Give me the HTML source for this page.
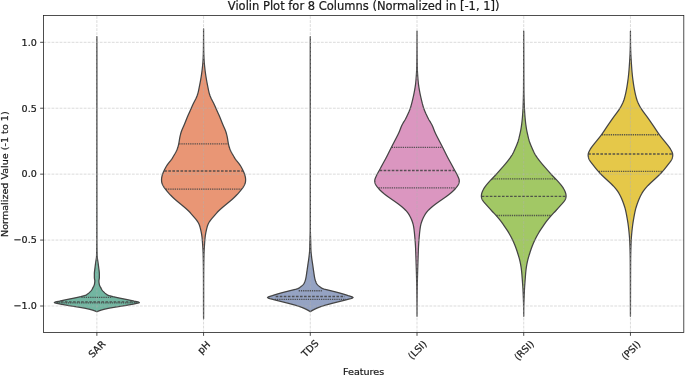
<!DOCTYPE html><html><head><meta charset="utf-8"><title>Violin Plot</title>
<style>html,body{margin:0;padding:0;background:#fff}svg{display:block}text{font-family:"DejaVu Sans","Liberation Sans",sans-serif;fill:#1a1a1a;stroke:#1a1a1a;stroke-width:0.22px}</style></head><body>
<svg width="685" height="376" viewBox="0 0 685 376">
<rect width="685" height="376" fill="#fff"/>
<path d="M96.86 36.60 L96.86 37.10 L96.86 37.60 L96.85 38.10 L96.85 38.60 L96.85 39.10 L96.85 39.60 L96.85 40.10 L96.85 40.60 L96.85 41.10 L96.84 41.60 L96.84 42.10 L96.84 42.60 L96.84 43.10 L96.84 43.60 L96.84 44.10 L96.84 44.60 L96.83 45.10 L96.83 45.60 L96.83 46.10 L96.83 46.60 L96.83 47.10 L96.83 47.60 L96.83 48.10 L96.83 48.60 L96.82 49.10 L96.82 49.60 L96.82 50.10 L96.82 50.60 L96.82 51.10 L96.82 51.60 L96.82 52.10 L96.82 52.60 L96.82 53.10 L96.81 53.60 L96.81 54.10 L96.81 54.60 L96.81 55.10 L96.81 55.60 L96.81 56.10 L96.81 56.60 L96.81 57.10 L96.81 57.60 L96.81 58.10 L96.81 58.60 L96.81 59.10 L96.81 59.60 L96.81 60.10 L96.81 60.60 L96.81 61.10 L96.81 61.60 L96.81 62.10 L96.81 62.60 L96.81 63.10 L96.81 63.60 L96.81 64.10 L96.81 64.60 L96.81 65.10 L96.81 65.60 L96.81 66.10 L96.81 66.60 L96.81 67.10 L96.81 67.60 L96.81 68.10 L96.81 68.60 L96.81 69.10 L96.81 69.60 L96.81 70.10 L96.81 70.60 L96.81 71.10 L96.81 71.60 L96.81 72.10 L96.81 72.60 L96.81 73.10 L96.81 73.60 L96.81 74.10 L96.81 74.60 L96.81 75.10 L96.81 75.60 L96.81 76.10 L96.81 76.60 L96.81 77.10 L96.81 77.60 L96.81 78.10 L96.81 78.60 L96.81 79.10 L96.81 79.60 L96.81 80.10 L96.81 80.60 L96.81 81.10 L96.81 81.60 L96.81 82.10 L96.81 82.60 L96.81 83.10 L96.81 83.60 L96.81 84.10 L96.81 84.60 L96.81 85.10 L96.81 85.60 L96.81 86.10 L96.81 86.60 L96.81 87.10 L96.81 87.60 L96.81 88.10 L96.81 88.60 L96.81 89.10 L96.81 89.60 L96.81 90.10 L96.81 90.60 L96.81 91.10 L96.81 91.60 L96.81 92.10 L96.81 92.60 L96.81 93.10 L96.81 93.60 L96.81 94.10 L96.81 94.60 L96.81 95.10 L96.81 95.60 L96.81 96.10 L96.81 96.60 L96.81 97.10 L96.81 97.60 L96.81 98.10 L96.81 98.60 L96.81 99.10 L96.81 99.60 L96.81 100.10 L96.81 100.60 L96.81 101.10 L96.81 101.60 L96.81 102.10 L96.81 102.60 L96.81 103.10 L96.81 103.60 L96.81 104.10 L96.81 104.60 L96.81 105.10 L96.81 105.60 L96.81 106.10 L96.81 106.60 L96.81 107.10 L96.81 107.60 L96.81 108.10 L96.81 108.60 L96.81 109.10 L96.81 109.60 L96.81 110.10 L96.81 110.60 L96.81 111.10 L96.81 111.60 L96.81 112.10 L96.81 112.60 L96.81 113.10 L96.81 113.60 L96.81 114.10 L96.81 114.60 L96.81 115.10 L96.81 115.60 L96.81 116.10 L96.81 116.60 L96.81 117.10 L96.81 117.60 L96.81 118.10 L96.81 118.60 L96.81 119.10 L96.81 119.60 L96.81 120.10 L96.81 120.60 L96.81 121.10 L96.81 121.60 L96.81 122.10 L96.81 122.60 L96.81 123.10 L96.81 123.60 L96.81 124.10 L96.81 124.60 L96.81 125.10 L96.81 125.60 L96.81 126.10 L96.81 126.60 L96.81 127.10 L96.81 127.60 L96.81 128.10 L96.81 128.60 L96.81 129.10 L96.81 129.60 L96.81 130.10 L96.81 130.60 L96.81 131.10 L96.81 131.60 L96.81 132.10 L96.81 132.60 L96.81 133.10 L96.81 133.60 L96.81 134.10 L96.81 134.60 L96.81 135.10 L96.81 135.60 L96.81 136.10 L96.81 136.60 L96.81 137.10 L96.81 137.60 L96.81 138.10 L96.81 138.60 L96.81 139.10 L96.81 139.60 L96.81 140.10 L96.81 140.60 L96.81 141.10 L96.81 141.60 L96.81 142.10 L96.81 142.60 L96.81 143.10 L96.81 143.60 L96.81 144.10 L96.81 144.60 L96.81 145.10 L96.81 145.60 L96.81 146.10 L96.81 146.60 L96.81 147.10 L96.81 147.60 L96.81 148.10 L96.81 148.60 L96.81 149.10 L96.81 149.60 L96.81 150.10 L96.81 150.60 L96.81 151.10 L96.81 151.60 L96.81 152.10 L96.81 152.60 L96.81 153.10 L96.81 153.60 L96.81 154.10 L96.81 154.60 L96.81 155.10 L96.81 155.60 L96.81 156.10 L96.81 156.60 L96.81 157.10 L96.81 157.60 L96.81 158.10 L96.81 158.60 L96.81 159.10 L96.81 159.60 L96.81 160.10 L96.81 160.60 L96.81 161.10 L96.81 161.60 L96.81 162.10 L96.81 162.60 L96.81 163.10 L96.81 163.60 L96.81 164.10 L96.81 164.60 L96.81 165.10 L96.81 165.60 L96.81 166.10 L96.81 166.60 L96.81 167.10 L96.81 167.60 L96.81 168.10 L96.81 168.60 L96.81 169.10 L96.81 169.60 L96.81 170.10 L96.81 170.60 L96.81 171.10 L96.81 171.60 L96.81 172.10 L96.81 172.60 L96.81 173.10 L96.81 173.60 L96.81 174.10 L96.81 174.60 L96.81 175.10 L96.81 175.60 L96.81 176.10 L96.81 176.60 L96.81 177.10 L96.81 177.60 L96.80 178.10 L96.80 178.60 L96.80 179.10 L96.80 179.60 L96.80 180.10 L96.80 180.60 L96.80 181.10 L96.80 181.60 L96.80 182.10 L96.80 182.60 L96.80 183.10 L96.80 183.60 L96.80 184.10 L96.80 184.60 L96.80 185.10 L96.80 185.60 L96.80 186.10 L96.80 186.60 L96.80 187.10 L96.80 187.60 L96.80 188.10 L96.80 188.60 L96.80 189.10 L96.80 189.60 L96.80 190.10 L96.80 190.60 L96.80 191.10 L96.80 191.60 L96.80 192.10 L96.80 192.60 L96.80 193.10 L96.80 193.60 L96.80 194.10 L96.80 194.60 L96.80 195.10 L96.80 195.60 L96.80 196.10 L96.80 196.60 L96.80 197.10 L96.80 197.60 L96.80 198.10 L96.80 198.60 L96.80 199.10 L96.80 199.60 L96.80 200.10 L96.80 200.60 L96.80 201.10 L96.79 201.60 L96.79 202.10 L96.79 202.60 L96.79 203.10 L96.79 203.60 L96.79 204.10 L96.79 204.60 L96.79 205.10 L96.79 205.60 L96.79 206.10 L96.79 206.60 L96.79 207.10 L96.79 207.60 L96.79 208.10 L96.79 208.60 L96.79 209.10 L96.79 209.60 L96.79 210.10 L96.79 210.60 L96.79 211.10 L96.79 211.60 L96.79 212.10 L96.79 212.60 L96.79 213.10 L96.79 213.60 L96.79 214.10 L96.79 214.60 L96.79 215.10 L96.78 215.60 L96.78 216.10 L96.78 216.60 L96.78 217.10 L96.78 217.60 L96.78 218.10 L96.78 218.60 L96.78 219.10 L96.78 219.60 L96.78 220.10 L96.78 220.60 L96.78 221.10 L96.78 221.60 L96.78 222.10 L96.78 222.60 L96.78 223.10 L96.78 223.60 L96.78 224.10 L96.78 224.60 L96.78 225.10 L96.78 225.60 L96.77 226.10 L96.77 226.60 L96.77 227.10 L96.77 227.60 L96.77 228.10 L96.77 228.60 L96.77 229.10 L96.77 229.60 L96.77 230.10 L96.77 230.60 L96.77 231.10 L96.77 231.60 L96.77 232.10 L96.77 232.60 L96.77 233.10 L96.77 233.60 L96.77 234.10 L96.77 234.60 L96.76 235.10 L96.76 235.60 L96.76 236.10 L96.76 236.60 L96.76 237.10 L96.76 237.60 L96.76 238.10 L96.76 238.60 L96.76 239.10 L96.76 239.60 L96.76 240.10 L96.76 240.60 L96.76 241.10 L96.75 241.60 L96.75 242.10 L96.75 242.60 L96.75 243.10 L96.75 243.60 L96.74 244.10 L96.74 244.60 L96.74 245.10 L96.73 245.60 L96.73 246.10 L96.72 246.60 L96.72 247.10 L96.71 247.60 L96.71 248.10 L96.70 248.60 L96.69 249.10 L96.69 249.60 L96.68 250.10 L96.67 250.60 L96.66 251.10 L96.65 251.60 L96.65 252.10 L96.64 252.60 L96.63 253.10 L96.62 253.60 L96.60 254.10 L96.59 254.60 L96.58 255.10 L96.57 255.60 L96.56 256.10 L96.53 256.60 L96.49 257.10 L96.44 257.60 L96.37 258.10 L96.30 258.60 L96.22 259.10 L96.14 259.60 L96.06 260.10 L95.97 260.60 L95.89 261.10 L95.81 261.60 L95.74 262.10 L95.68 262.60 L95.61 263.10 L95.54 263.60 L95.47 264.10 L95.40 264.60 L95.33 265.10 L95.26 265.60 L95.19 266.10 L95.13 266.60 L95.07 267.10 L95.01 267.60 L94.95 268.10 L94.89 268.60 L94.82 269.10 L94.75 269.60 L94.69 270.10 L94.62 270.60 L94.56 271.10 L94.50 271.60 L94.45 272.10 L94.41 272.60 L94.38 273.10 L94.36 273.60 L94.36 274.10 L94.36 274.60 L94.36 275.10 L94.36 275.60 L94.36 276.10 L94.36 276.60 L94.36 277.10 L94.36 277.60 L94.39 278.10 L94.46 278.60 L94.55 279.10 L94.65 279.60 L94.73 280.10 L94.79 280.60 L94.81 281.10 L94.79 281.60 L94.75 282.10 L94.70 282.60 L94.63 283.10 L94.55 283.60 L94.46 284.10 L94.36 284.60 L94.23 285.10 L94.04 285.60 L93.81 286.10 L93.55 286.60 L93.27 287.10 L92.99 287.60 L92.71 288.10 L92.45 288.60 L92.19 289.10 L91.91 289.60 L91.60 290.10 L91.23 290.60 L90.78 291.10 L90.29 291.60 L89.76 292.10 L89.25 292.60 L88.75 293.10 L88.22 293.60 L87.61 294.10 L86.88 294.60 L85.93 295.10 L84.47 295.60 L82.69 296.10 L80.80 296.60 L78.66 297.10 L76.36 297.60 L74.00 298.10 L71.49 298.60 L68.94 299.10 L66.51 299.60 L64.12 300.10 L61.83 300.60 L59.54 301.10 L56.94 301.60 L54.89 302.10 L54.31 302.60 L55.85 303.10 L58.16 303.60 L60.53 304.10 L63.21 304.60 L66.00 305.10 L68.94 305.60 L72.00 306.10 L75.23 306.60 L78.37 307.10 L81.42 307.60 L84.25 308.10 L86.69 308.60 L88.89 309.10 L90.83 309.60 L92.56 310.10 L94.10 310.60 L95.43 311.10 L96.56 311.60 L97.16 311.60 L98.29 311.10 L99.61 310.60 L101.15 310.10 L102.89 309.60 L104.83 309.10 L107.03 308.60 L109.47 308.10 L112.30 307.60 L115.35 307.10 L118.48 306.60 L121.71 306.10 L124.77 305.60 L127.72 305.10 L130.50 304.60 L133.19 304.10 L135.56 303.60 L137.86 303.10 L139.40 302.60 L138.83 302.10 L136.77 301.60 L134.18 301.10 L131.89 300.60 L129.60 300.10 L127.21 299.60 L124.78 299.10 L122.23 298.60 L119.71 298.10 L117.35 297.60 L115.05 297.10 L112.91 296.60 L111.02 296.10 L109.24 295.60 L107.78 295.10 L106.84 294.60 L106.11 294.10 L105.50 293.60 L104.97 293.10 L104.47 292.60 L103.95 292.10 L103.43 291.60 L102.93 291.10 L102.49 290.60 L102.12 290.10 L101.81 289.60 L101.53 289.10 L101.26 288.60 L101.01 288.10 L100.73 287.60 L100.45 287.10 L100.17 286.60 L99.91 286.10 L99.68 285.60 L99.49 285.10 L99.36 284.60 L99.26 284.10 L99.17 283.60 L99.09 283.10 L99.02 282.60 L98.96 282.10 L98.93 281.60 L98.91 281.10 L98.92 280.60 L98.98 280.10 L99.07 279.60 L99.16 279.10 L99.25 278.60 L99.32 278.10 L99.36 277.60 L99.36 277.10 L99.36 276.60 L99.36 276.10 L99.36 275.60 L99.36 275.10 L99.36 274.60 L99.36 274.10 L99.35 273.60 L99.33 273.10 L99.30 272.60 L99.26 272.10 L99.21 271.60 L99.16 271.10 L99.09 270.60 L99.03 270.10 L98.96 269.60 L98.90 269.10 L98.83 268.60 L98.77 268.10 L98.71 267.60 L98.65 267.10 L98.59 266.60 L98.52 266.10 L98.45 265.60 L98.39 265.10 L98.32 264.60 L98.25 264.10 L98.18 263.60 L98.11 263.10 L98.04 262.60 L97.97 262.10 L97.90 261.60 L97.83 261.10 L97.74 260.60 L97.66 260.10 L97.58 259.60 L97.49 259.10 L97.42 258.60 L97.34 258.10 L97.28 257.60 L97.23 257.10 L97.19 256.60 L97.16 256.10 L97.15 255.60 L97.14 255.10 L97.12 254.60 L97.11 254.10 L97.10 253.60 L97.09 253.10 L97.08 252.60 L97.07 252.10 L97.06 251.60 L97.05 251.10 L97.05 250.60 L97.04 250.10 L97.03 249.60 L97.02 249.10 L97.02 248.60 L97.01 248.10 L97.00 247.60 L97.00 247.10 L96.99 246.60 L96.99 246.10 L96.98 245.60 L96.98 245.10 L96.98 244.60 L96.97 244.10 L96.97 243.60 L96.97 243.10 L96.97 242.60 L96.96 242.10 L96.96 241.60 L96.96 241.10 L96.96 240.60 L96.96 240.10 L96.96 239.60 L96.96 239.10 L96.96 238.60 L96.96 238.10 L96.96 237.60 L96.95 237.10 L96.95 236.60 L96.95 236.10 L96.95 235.60 L96.95 235.10 L96.95 234.60 L96.95 234.10 L96.95 233.60 L96.95 233.10 L96.95 232.60 L96.95 232.10 L96.95 231.60 L96.95 231.10 L96.95 230.60 L96.95 230.10 L96.95 229.60 L96.94 229.10 L96.94 228.60 L96.94 228.10 L96.94 227.60 L96.94 227.10 L96.94 226.60 L96.94 226.10 L96.94 225.60 L96.94 225.10 L96.94 224.60 L96.94 224.10 L96.94 223.60 L96.94 223.10 L96.94 222.60 L96.94 222.10 L96.94 221.60 L96.94 221.10 L96.94 220.60 L96.94 220.10 L96.94 219.60 L96.93 219.10 L96.93 218.60 L96.93 218.10 L96.93 217.60 L96.93 217.10 L96.93 216.60 L96.93 216.10 L96.93 215.60 L96.93 215.10 L96.93 214.60 L96.93 214.10 L96.93 213.60 L96.93 213.10 L96.93 212.60 L96.93 212.10 L96.93 211.60 L96.93 211.10 L96.93 210.60 L96.93 210.10 L96.93 209.60 L96.93 209.10 L96.93 208.60 L96.93 208.10 L96.93 207.60 L96.93 207.10 L96.92 206.60 L96.92 206.10 L96.92 205.60 L96.92 205.10 L96.92 204.60 L96.92 204.10 L96.92 203.60 L96.92 203.10 L96.92 202.60 L96.92 202.10 L96.92 201.60 L96.92 201.10 L96.92 200.60 L96.92 200.10 L96.92 199.60 L96.92 199.10 L96.92 198.60 L96.92 198.10 L96.92 197.60 L96.92 197.10 L96.92 196.60 L96.92 196.10 L96.92 195.60 L96.92 195.10 L96.92 194.60 L96.92 194.10 L96.92 193.60 L96.92 193.10 L96.92 192.60 L96.92 192.10 L96.92 191.60 L96.92 191.10 L96.92 190.60 L96.92 190.10 L96.92 189.60 L96.92 189.10 L96.92 188.60 L96.92 188.10 L96.91 187.60 L96.91 187.10 L96.91 186.60 L96.91 186.10 L96.91 185.60 L96.91 185.10 L96.91 184.60 L96.91 184.10 L96.91 183.60 L96.91 183.10 L96.91 182.60 L96.91 182.10 L96.91 181.60 L96.91 181.10 L96.91 180.60 L96.91 180.10 L96.91 179.60 L96.91 179.10 L96.91 178.60 L96.91 178.10 L96.91 177.60 L96.91 177.10 L96.91 176.60 L96.91 176.10 L96.91 175.60 L96.91 175.10 L96.91 174.60 L96.91 174.10 L96.91 173.60 L96.91 173.10 L96.91 172.60 L96.91 172.10 L96.91 171.60 L96.91 171.10 L96.91 170.60 L96.91 170.10 L96.91 169.60 L96.91 169.10 L96.91 168.60 L96.91 168.10 L96.91 167.60 L96.91 167.10 L96.91 166.60 L96.91 166.10 L96.91 165.60 L96.91 165.10 L96.91 164.60 L96.91 164.10 L96.91 163.60 L96.91 163.10 L96.91 162.60 L96.91 162.10 L96.91 161.60 L96.91 161.10 L96.91 160.60 L96.91 160.10 L96.91 159.60 L96.91 159.10 L96.91 158.60 L96.91 158.10 L96.91 157.60 L96.91 157.10 L96.91 156.60 L96.91 156.10 L96.91 155.60 L96.91 155.10 L96.91 154.60 L96.91 154.10 L96.91 153.60 L96.91 153.10 L96.91 152.60 L96.91 152.10 L96.91 151.60 L96.91 151.10 L96.91 150.60 L96.91 150.10 L96.91 149.60 L96.91 149.10 L96.91 148.60 L96.91 148.10 L96.91 147.60 L96.91 147.10 L96.91 146.60 L96.91 146.10 L96.91 145.60 L96.91 145.10 L96.91 144.60 L96.91 144.10 L96.91 143.60 L96.91 143.10 L96.91 142.60 L96.91 142.10 L96.91 141.60 L96.91 141.10 L96.91 140.60 L96.91 140.10 L96.91 139.60 L96.91 139.10 L96.91 138.60 L96.91 138.10 L96.91 137.60 L96.91 137.10 L96.91 136.60 L96.91 136.10 L96.91 135.60 L96.91 135.10 L96.91 134.60 L96.91 134.10 L96.91 133.60 L96.91 133.10 L96.91 132.60 L96.91 132.10 L96.91 131.60 L96.91 131.10 L96.91 130.60 L96.91 130.10 L96.91 129.60 L96.91 129.10 L96.91 128.60 L96.91 128.10 L96.91 127.60 L96.91 127.10 L96.91 126.60 L96.91 126.10 L96.91 125.60 L96.91 125.10 L96.91 124.60 L96.91 124.10 L96.91 123.60 L96.91 123.10 L96.91 122.60 L96.91 122.10 L96.91 121.60 L96.91 121.10 L96.91 120.60 L96.91 120.10 L96.91 119.60 L96.91 119.10 L96.91 118.60 L96.91 118.10 L96.91 117.60 L96.91 117.10 L96.91 116.60 L96.91 116.10 L96.91 115.60 L96.91 115.10 L96.91 114.60 L96.91 114.10 L96.91 113.60 L96.91 113.10 L96.91 112.60 L96.91 112.10 L96.91 111.60 L96.91 111.10 L96.91 110.60 L96.91 110.10 L96.91 109.60 L96.91 109.10 L96.91 108.60 L96.91 108.10 L96.91 107.60 L96.91 107.10 L96.91 106.60 L96.91 106.10 L96.91 105.60 L96.91 105.10 L96.91 104.60 L96.91 104.10 L96.91 103.60 L96.91 103.10 L96.91 102.60 L96.91 102.10 L96.91 101.60 L96.91 101.10 L96.91 100.60 L96.91 100.10 L96.91 99.60 L96.91 99.10 L96.91 98.60 L96.91 98.10 L96.91 97.60 L96.91 97.10 L96.91 96.60 L96.91 96.10 L96.91 95.60 L96.91 95.10 L96.91 94.60 L96.91 94.10 L96.91 93.60 L96.91 93.10 L96.91 92.60 L96.91 92.10 L96.91 91.60 L96.91 91.10 L96.91 90.60 L96.91 90.10 L96.91 89.60 L96.91 89.10 L96.91 88.60 L96.91 88.10 L96.91 87.60 L96.91 87.10 L96.91 86.60 L96.91 86.10 L96.91 85.60 L96.91 85.10 L96.91 84.60 L96.91 84.10 L96.91 83.60 L96.91 83.10 L96.91 82.60 L96.91 82.10 L96.91 81.60 L96.91 81.10 L96.91 80.60 L96.91 80.10 L96.91 79.60 L96.91 79.10 L96.91 78.60 L96.91 78.10 L96.91 77.60 L96.91 77.10 L96.91 76.60 L96.91 76.10 L96.91 75.60 L96.91 75.10 L96.91 74.60 L96.91 74.10 L96.91 73.60 L96.91 73.10 L96.91 72.60 L96.91 72.10 L96.91 71.60 L96.91 71.10 L96.91 70.60 L96.91 70.10 L96.91 69.60 L96.91 69.10 L96.91 68.60 L96.91 68.10 L96.91 67.60 L96.91 67.10 L96.91 66.60 L96.91 66.10 L96.91 65.60 L96.91 65.10 L96.91 64.60 L96.91 64.10 L96.91 63.60 L96.91 63.10 L96.91 62.60 L96.91 62.10 L96.91 61.60 L96.91 61.10 L96.91 60.60 L96.91 60.10 L96.91 59.60 L96.91 59.10 L96.91 58.60 L96.91 58.10 L96.91 57.60 L96.91 57.10 L96.91 56.60 L96.91 56.10 L96.91 55.60 L96.90 55.10 L96.90 54.60 L96.90 54.10 L96.90 53.60 L96.90 53.10 L96.90 52.60 L96.90 52.10 L96.90 51.60 L96.90 51.10 L96.90 50.60 L96.90 50.10 L96.89 49.60 L96.89 49.10 L96.89 48.60 L96.89 48.10 L96.89 47.60 L96.89 47.10 L96.89 46.60 L96.89 46.10 L96.88 45.60 L96.88 45.10 L96.88 44.60 L96.88 44.10 L96.88 43.60 L96.88 43.10 L96.88 42.60 L96.87 42.10 L96.87 41.60 L96.87 41.10 L96.87 40.60 L96.87 40.10 L96.87 39.60 L96.87 39.10 L96.86 38.60 L96.86 38.10 L96.86 37.60 L96.86 37.10 L96.86 36.60Z" fill="#72b6a1" stroke="#444444" stroke-width="1.25" stroke-linejoin="round"/>
<path d="M203.57 28.80 L203.57 29.30 L203.57 29.80 L203.57 30.30 L203.57 30.80 L203.57 31.30 L203.57 31.80 L203.57 32.30 L203.56 32.80 L203.56 33.30 L203.56 33.80 L203.56 34.30 L203.56 34.80 L203.55 35.30 L203.55 35.80 L203.55 36.30 L203.54 36.80 L203.54 37.30 L203.54 37.80 L203.54 38.30 L203.53 38.80 L203.53 39.30 L203.53 39.80 L203.52 40.30 L203.52 40.80 L203.51 41.30 L203.51 41.80 L203.51 42.30 L203.50 42.80 L203.50 43.30 L203.49 43.80 L203.49 44.30 L203.48 44.80 L203.48 45.30 L203.47 45.80 L203.46 46.30 L203.46 46.80 L203.45 47.30 L203.44 47.80 L203.44 48.30 L203.43 48.80 L203.42 49.30 L203.41 49.80 L203.40 50.30 L203.40 50.80 L203.39 51.30 L203.38 51.80 L203.36 52.30 L203.35 52.80 L203.34 53.30 L203.33 53.80 L203.31 54.30 L203.29 54.80 L203.28 55.30 L203.26 55.80 L203.24 56.30 L203.22 56.80 L203.20 57.30 L203.17 57.80 L203.15 58.30 L203.13 58.80 L203.10 59.30 L203.07 59.80 L203.04 60.30 L203.01 60.80 L202.98 61.30 L202.94 61.80 L202.90 62.30 L202.86 62.80 L202.82 63.30 L202.78 63.80 L202.73 64.30 L202.68 64.80 L202.63 65.30 L202.58 65.80 L202.53 66.30 L202.48 66.80 L202.42 67.30 L202.37 67.80 L202.31 68.30 L202.26 68.80 L202.20 69.30 L202.14 69.80 L202.08 70.30 L202.02 70.80 L201.95 71.30 L201.88 71.80 L201.82 72.30 L201.75 72.80 L201.68 73.30 L201.61 73.80 L201.53 74.30 L201.46 74.80 L201.38 75.30 L201.31 75.80 L201.23 76.30 L201.15 76.80 L201.07 77.30 L200.99 77.80 L200.90 78.30 L200.82 78.80 L200.74 79.30 L200.65 79.80 L200.56 80.30 L200.47 80.80 L200.38 81.30 L200.29 81.80 L200.19 82.30 L200.10 82.80 L200.00 83.30 L199.91 83.80 L199.81 84.30 L199.71 84.80 L199.61 85.30 L199.52 85.80 L199.42 86.30 L199.32 86.80 L199.22 87.30 L199.12 87.80 L199.02 88.30 L198.92 88.80 L198.82 89.30 L198.72 89.80 L198.61 90.30 L198.51 90.80 L198.39 91.30 L198.28 91.80 L198.16 92.30 L198.03 92.80 L197.90 93.30 L197.76 93.80 L197.61 94.30 L197.45 94.80 L197.29 95.30 L197.11 95.80 L196.92 96.30 L196.72 96.80 L196.51 97.30 L196.29 97.80 L196.06 98.30 L195.83 98.80 L195.58 99.30 L195.33 99.80 L195.08 100.30 L194.82 100.80 L194.55 101.30 L194.29 101.80 L194.03 102.30 L193.77 102.80 L193.52 103.30 L193.27 103.80 L193.03 104.30 L192.80 104.80 L192.57 105.30 L192.34 105.80 L192.12 106.30 L191.90 106.80 L191.68 107.30 L191.46 107.80 L191.25 108.30 L191.03 108.80 L190.81 109.30 L190.59 109.80 L190.37 110.30 L190.15 110.80 L189.93 111.30 L189.70 111.80 L189.48 112.30 L189.25 112.80 L189.02 113.30 L188.79 113.80 L188.56 114.30 L188.33 114.80 L188.11 115.30 L187.89 115.80 L187.68 116.30 L187.46 116.80 L187.26 117.30 L187.05 117.80 L186.85 118.30 L186.65 118.80 L186.45 119.30 L186.25 119.80 L186.05 120.30 L185.86 120.80 L185.66 121.30 L185.46 121.80 L185.26 122.30 L185.06 122.80 L184.86 123.30 L184.65 123.80 L184.45 124.30 L184.24 124.80 L184.02 125.30 L183.81 125.80 L183.59 126.30 L183.36 126.80 L183.14 127.30 L182.91 127.80 L182.69 128.30 L182.47 128.80 L182.25 129.30 L182.04 129.80 L181.84 130.30 L181.65 130.80 L181.47 131.30 L181.29 131.80 L181.13 132.30 L180.97 132.80 L180.82 133.30 L180.67 133.80 L180.54 134.30 L180.41 134.80 L180.28 135.30 L180.17 135.80 L180.05 136.30 L179.95 136.80 L179.85 137.30 L179.75 137.80 L179.66 138.30 L179.58 138.80 L179.49 139.30 L179.41 139.80 L179.34 140.30 L179.26 140.80 L179.18 141.30 L179.09 141.80 L179.01 142.30 L178.92 142.80 L178.82 143.30 L178.72 143.80 L178.62 144.30 L178.50 144.80 L178.38 145.30 L178.26 145.80 L178.13 146.30 L177.99 146.80 L177.84 147.30 L177.69 147.80 L177.53 148.30 L177.35 148.80 L177.17 149.30 L176.98 149.80 L176.77 150.30 L176.54 150.80 L176.31 151.30 L176.05 151.80 L175.79 152.30 L175.51 152.80 L175.23 153.30 L174.95 153.80 L174.65 154.30 L174.36 154.80 L174.07 155.30 L173.77 155.80 L173.48 156.30 L173.18 156.80 L172.88 157.30 L172.57 157.80 L172.25 158.30 L171.91 158.80 L171.57 159.30 L171.20 159.80 L170.82 160.30 L170.42 160.80 L170.01 161.30 L169.60 161.80 L169.18 162.30 L168.77 162.80 L168.38 163.30 L168.00 163.80 L167.64 164.30 L167.30 164.80 L166.98 165.30 L166.68 165.80 L166.38 166.30 L166.10 166.80 L165.82 167.30 L165.55 167.80 L165.28 168.30 L165.01 168.80 L164.76 169.30 L164.50 169.80 L164.26 170.30 L164.01 170.80 L163.78 171.30 L163.55 171.80 L163.34 172.30 L163.13 172.80 L162.93 173.30 L162.74 173.80 L162.56 174.30 L162.39 174.80 L162.24 175.30 L162.10 175.80 L161.97 176.30 L161.85 176.80 L161.76 177.30 L161.68 177.80 L161.62 178.30 L161.58 178.80 L161.55 179.30 L161.55 179.80 L161.55 180.30 L161.58 180.80 L161.62 181.30 L161.69 181.80 L161.77 182.30 L161.88 182.80 L162.02 183.30 L162.19 183.80 L162.39 184.30 L162.61 184.80 L162.86 185.30 L163.13 185.80 L163.43 186.30 L163.76 186.80 L164.10 187.30 L164.46 187.80 L164.84 188.30 L165.22 188.80 L165.61 189.30 L166.01 189.80 L166.41 190.30 L166.81 190.80 L167.22 191.30 L167.63 191.80 L168.05 192.30 L168.48 192.80 L168.92 193.30 L169.36 193.80 L169.81 194.30 L170.27 194.80 L170.75 195.30 L171.22 195.80 L171.71 196.30 L172.21 196.80 L172.72 197.30 L173.24 197.80 L173.77 198.30 L174.31 198.80 L174.86 199.30 L175.43 199.80 L176.01 200.30 L176.60 200.80 L177.19 201.30 L177.80 201.80 L178.41 202.30 L179.02 202.80 L179.63 203.30 L180.24 203.80 L180.85 204.30 L181.45 204.80 L182.06 205.30 L182.66 205.80 L183.25 206.30 L183.85 206.80 L184.44 207.30 L185.02 207.80 L185.60 208.30 L186.17 208.80 L186.73 209.30 L187.29 209.80 L187.83 210.30 L188.36 210.80 L188.88 211.30 L189.38 211.80 L189.86 212.30 L190.33 212.80 L190.78 213.30 L191.23 213.80 L191.66 214.30 L192.09 214.80 L192.52 215.30 L192.95 215.80 L193.39 216.30 L193.83 216.80 L194.27 217.30 L194.70 217.80 L195.14 218.30 L195.56 218.80 L195.97 219.30 L196.37 219.80 L196.74 220.30 L197.09 220.80 L197.43 221.30 L197.74 221.80 L198.04 222.30 L198.32 222.80 L198.58 223.30 L198.82 223.80 L199.05 224.30 L199.26 224.80 L199.45 225.30 L199.63 225.80 L199.79 226.30 L199.95 226.80 L200.09 227.30 L200.23 227.80 L200.36 228.30 L200.48 228.80 L200.60 229.30 L200.72 229.80 L200.83 230.30 L200.94 230.80 L201.05 231.30 L201.16 231.80 L201.26 232.30 L201.36 232.80 L201.45 233.30 L201.54 233.80 L201.62 234.30 L201.70 234.80 L201.77 235.30 L201.84 235.80 L201.90 236.30 L201.96 236.80 L202.02 237.30 L202.07 237.80 L202.13 238.30 L202.17 238.80 L202.22 239.30 L202.26 239.80 L202.31 240.30 L202.35 240.80 L202.39 241.30 L202.43 241.80 L202.46 242.30 L202.50 242.80 L202.54 243.30 L202.57 243.80 L202.61 244.30 L202.64 244.80 L202.68 245.30 L202.71 245.80 L202.75 246.30 L202.78 246.80 L202.82 247.30 L202.85 247.80 L202.88 248.30 L202.91 248.80 L202.94 249.30 L202.97 249.80 L203.00 250.30 L203.03 250.80 L203.05 251.30 L203.07 251.80 L203.09 252.30 L203.11 252.80 L203.13 253.30 L203.15 253.80 L203.16 254.30 L203.18 254.80 L203.19 255.30 L203.20 255.80 L203.21 256.30 L203.22 256.80 L203.23 257.30 L203.24 257.80 L203.25 258.30 L203.26 258.80 L203.27 259.30 L203.28 259.80 L203.28 260.30 L203.29 260.80 L203.30 261.30 L203.31 261.80 L203.32 262.30 L203.32 262.80 L203.33 263.30 L203.34 263.80 L203.35 264.30 L203.35 264.80 L203.36 265.30 L203.37 265.80 L203.37 266.30 L203.38 266.80 L203.38 267.30 L203.39 267.80 L203.39 268.30 L203.40 268.80 L203.40 269.30 L203.41 269.80 L203.41 270.30 L203.42 270.80 L203.42 271.30 L203.43 271.80 L203.43 272.30 L203.44 272.80 L203.44 273.30 L203.44 273.80 L203.45 274.30 L203.45 274.80 L203.45 275.30 L203.46 275.80 L203.46 276.30 L203.46 276.80 L203.46 277.30 L203.47 277.80 L203.47 278.30 L203.47 278.80 L203.47 279.30 L203.47 279.80 L203.48 280.30 L203.48 280.80 L203.48 281.30 L203.48 281.80 L203.48 282.30 L203.48 282.80 L203.48 283.30 L203.48 283.80 L203.49 284.30 L203.49 284.80 L203.49 285.30 L203.49 285.80 L203.49 286.30 L203.49 286.80 L203.49 287.30 L203.49 287.80 L203.49 288.30 L203.49 288.80 L203.49 289.30 L203.49 289.80 L203.50 290.30 L203.50 290.80 L203.50 291.30 L203.50 291.80 L203.50 292.30 L203.50 292.80 L203.50 293.30 L203.50 293.80 L203.50 294.30 L203.50 294.80 L203.50 295.30 L203.50 295.80 L203.50 296.30 L203.50 296.80 L203.50 297.30 L203.50 297.80 L203.50 298.30 L203.50 298.80 L203.51 299.30 L203.51 299.80 L203.51 300.30 L203.51 300.80 L203.51 301.30 L203.51 301.80 L203.51 302.30 L203.51 302.80 L203.51 303.30 L203.51 303.80 L203.51 304.30 L203.51 304.80 L203.51 305.30 L203.52 305.80 L203.52 306.30 L203.52 306.80 L203.52 307.30 L203.52 307.80 L203.52 308.30 L203.52 308.80 L203.52 309.30 L203.53 309.80 L203.53 310.30 L203.53 310.80 L203.53 311.30 L203.53 311.80 L203.54 312.30 L203.54 312.80 L203.54 313.30 L203.54 313.80 L203.55 314.30 L203.55 314.80 L203.55 315.30 L203.56 315.80 L203.56 316.30 L203.56 316.80 L203.56 317.30 L203.57 317.80 L203.57 318.30 L203.57 318.80 L203.57 318.80 L203.58 318.30 L203.58 317.80 L203.59 317.30 L203.59 316.80 L203.59 316.30 L203.59 315.80 L203.60 315.30 L203.60 314.80 L203.60 314.30 L203.61 313.80 L203.61 313.30 L203.61 312.80 L203.61 312.30 L203.62 311.80 L203.62 311.30 L203.62 310.80 L203.62 310.30 L203.62 309.80 L203.63 309.30 L203.63 308.80 L203.63 308.30 L203.63 307.80 L203.63 307.30 L203.63 306.80 L203.63 306.30 L203.63 305.80 L203.64 305.30 L203.64 304.80 L203.64 304.30 L203.64 303.80 L203.64 303.30 L203.64 302.80 L203.64 302.30 L203.64 301.80 L203.64 301.30 L203.64 300.80 L203.64 300.30 L203.64 299.80 L203.64 299.30 L203.65 298.80 L203.65 298.30 L203.65 297.80 L203.65 297.30 L203.65 296.80 L203.65 296.30 L203.65 295.80 L203.65 295.30 L203.65 294.80 L203.65 294.30 L203.65 293.80 L203.65 293.30 L203.65 292.80 L203.65 292.30 L203.65 291.80 L203.65 291.30 L203.65 290.80 L203.65 290.30 L203.66 289.80 L203.66 289.30 L203.66 288.80 L203.66 288.30 L203.66 287.80 L203.66 287.30 L203.66 286.80 L203.66 286.30 L203.66 285.80 L203.66 285.30 L203.66 284.80 L203.66 284.30 L203.67 283.80 L203.67 283.30 L203.67 282.80 L203.67 282.30 L203.67 281.80 L203.67 281.30 L203.67 280.80 L203.67 280.30 L203.68 279.80 L203.68 279.30 L203.68 278.80 L203.68 278.30 L203.68 277.80 L203.69 277.30 L203.69 276.80 L203.69 276.30 L203.69 275.80 L203.70 275.30 L203.70 274.80 L203.70 274.30 L203.71 273.80 L203.71 273.30 L203.71 272.80 L203.72 272.30 L203.72 271.80 L203.73 271.30 L203.73 270.80 L203.74 270.30 L203.74 269.80 L203.75 269.30 L203.75 268.80 L203.76 268.30 L203.76 267.80 L203.77 267.30 L203.77 266.80 L203.78 266.30 L203.78 265.80 L203.79 265.30 L203.80 264.80 L203.80 264.30 L203.81 263.80 L203.82 263.30 L203.83 262.80 L203.83 262.30 L203.84 261.80 L203.85 261.30 L203.86 260.80 L203.87 260.30 L203.87 259.80 L203.88 259.30 L203.89 258.80 L203.90 258.30 L203.91 257.80 L203.92 257.30 L203.93 256.80 L203.94 256.30 L203.95 255.80 L203.96 255.30 L203.97 254.80 L203.99 254.30 L204.00 253.80 L204.02 253.30 L204.04 252.80 L204.06 252.30 L204.08 251.80 L204.10 251.30 L204.12 250.80 L204.15 250.30 L204.18 249.80 L204.21 249.30 L204.24 248.80 L204.27 248.30 L204.30 247.80 L204.33 247.30 L204.37 246.80 L204.40 246.30 L204.44 245.80 L204.47 245.30 L204.51 244.80 L204.54 244.30 L204.58 243.80 L204.61 243.30 L204.65 242.80 L204.69 242.30 L204.72 241.80 L204.76 241.30 L204.80 240.80 L204.84 240.30 L204.89 239.80 L204.93 239.30 L204.98 238.80 L205.02 238.30 L205.08 237.80 L205.13 237.30 L205.19 236.80 L205.25 236.30 L205.31 235.80 L205.38 235.30 L205.45 234.80 L205.53 234.30 L205.61 233.80 L205.70 233.30 L205.79 232.80 L205.89 232.30 L205.99 231.80 L206.10 231.30 L206.21 230.80 L206.32 230.30 L206.43 229.80 L206.55 229.30 L206.67 228.80 L206.79 228.30 L206.92 227.80 L207.06 227.30 L207.20 226.80 L207.36 226.30 L207.52 225.80 L207.70 225.30 L207.89 224.80 L208.10 224.30 L208.33 223.80 L208.57 223.30 L208.83 222.80 L209.11 222.30 L209.41 221.80 L209.72 221.30 L210.06 220.80 L210.41 220.30 L210.78 219.80 L211.18 219.30 L211.59 218.80 L212.01 218.30 L212.45 217.80 L212.88 217.30 L213.32 216.80 L213.76 216.30 L214.20 215.80 L214.63 215.30 L215.06 214.80 L215.49 214.30 L215.92 213.80 L216.37 213.30 L216.82 212.80 L217.29 212.30 L217.77 211.80 L218.27 211.30 L218.79 210.80 L219.32 210.30 L219.86 209.80 L220.42 209.30 L220.98 208.80 L221.55 208.30 L222.13 207.80 L222.71 207.30 L223.30 206.80 L223.90 206.30 L224.49 205.80 L225.09 205.30 L225.70 204.80 L226.30 204.30 L226.91 203.80 L227.52 203.30 L228.13 202.80 L228.74 202.30 L229.35 201.80 L229.96 201.30 L230.55 200.80 L231.14 200.30 L231.72 199.80 L232.29 199.30 L232.84 198.80 L233.38 198.30 L233.91 197.80 L234.43 197.30 L234.94 196.80 L235.44 196.30 L235.93 195.80 L236.40 195.30 L236.88 194.80 L237.34 194.30 L237.79 193.80 L238.23 193.30 L238.67 192.80 L239.10 192.30 L239.52 191.80 L239.93 191.30 L240.34 190.80 L240.74 190.30 L241.14 189.80 L241.54 189.30 L241.93 188.80 L242.31 188.30 L242.69 187.80 L243.05 187.30 L243.39 186.80 L243.72 186.30 L244.02 185.80 L244.29 185.30 L244.54 184.80 L244.76 184.30 L244.96 183.80 L245.13 183.30 L245.27 182.80 L245.38 182.30 L245.46 181.80 L245.53 181.30 L245.57 180.80 L245.60 180.30 L245.60 179.80 L245.60 179.30 L245.57 178.80 L245.53 178.30 L245.47 177.80 L245.39 177.30 L245.30 176.80 L245.18 176.30 L245.05 175.80 L244.91 175.30 L244.76 174.80 L244.59 174.30 L244.41 173.80 L244.22 173.30 L244.02 172.80 L243.81 172.30 L243.60 171.80 L243.37 171.30 L243.14 170.80 L242.89 170.30 L242.65 169.80 L242.39 169.30 L242.14 168.80 L241.87 168.30 L241.60 167.80 L241.33 167.30 L241.05 166.80 L240.77 166.30 L240.47 165.80 L240.17 165.30 L239.85 164.80 L239.51 164.30 L239.15 163.80 L238.77 163.30 L238.38 162.80 L237.97 162.30 L237.55 161.80 L237.14 161.30 L236.73 160.80 L236.33 160.30 L235.95 159.80 L235.58 159.30 L235.24 158.80 L234.90 158.30 L234.58 157.80 L234.27 157.30 L233.97 156.80 L233.67 156.30 L233.38 155.80 L233.08 155.30 L232.79 154.80 L232.50 154.30 L232.20 153.80 L231.92 153.30 L231.64 152.80 L231.36 152.30 L231.10 151.80 L230.84 151.30 L230.61 150.80 L230.38 150.30 L230.17 149.80 L229.98 149.30 L229.80 148.80 L229.62 148.30 L229.46 147.80 L229.31 147.30 L229.16 146.80 L229.02 146.30 L228.89 145.80 L228.77 145.30 L228.65 144.80 L228.53 144.30 L228.43 143.80 L228.33 143.30 L228.23 142.80 L228.14 142.30 L228.06 141.80 L227.97 141.30 L227.89 140.80 L227.81 140.30 L227.74 139.80 L227.66 139.30 L227.57 138.80 L227.49 138.30 L227.40 137.80 L227.30 137.30 L227.20 136.80 L227.10 136.30 L226.98 135.80 L226.87 135.30 L226.74 134.80 L226.61 134.30 L226.48 133.80 L226.33 133.30 L226.18 132.80 L226.02 132.30 L225.86 131.80 L225.68 131.30 L225.50 130.80 L225.31 130.30 L225.11 129.80 L224.90 129.30 L224.68 128.80 L224.46 128.30 L224.24 127.80 L224.01 127.30 L223.79 126.80 L223.56 126.30 L223.34 125.80 L223.13 125.30 L222.91 124.80 L222.70 124.30 L222.50 123.80 L222.29 123.30 L222.09 122.80 L221.89 122.30 L221.69 121.80 L221.49 121.30 L221.29 120.80 L221.10 120.30 L220.90 119.80 L220.70 119.30 L220.50 118.80 L220.30 118.30 L220.10 117.80 L219.89 117.30 L219.69 116.80 L219.47 116.30 L219.26 115.80 L219.04 115.30 L218.82 114.80 L218.59 114.30 L218.36 113.80 L218.13 113.30 L217.90 112.80 L217.67 112.30 L217.45 111.80 L217.22 111.30 L217.00 110.80 L216.78 110.30 L216.56 109.80 L216.34 109.30 L216.12 108.80 L215.90 108.30 L215.69 107.80 L215.47 107.30 L215.25 106.80 L215.03 106.30 L214.81 105.80 L214.58 105.30 L214.35 104.80 L214.12 104.30 L213.88 103.80 L213.63 103.30 L213.38 102.80 L213.12 102.30 L212.86 101.80 L212.60 101.30 L212.33 100.80 L212.07 100.30 L211.82 99.80 L211.57 99.30 L211.32 98.80 L211.09 98.30 L210.86 97.80 L210.64 97.30 L210.43 96.80 L210.23 96.30 L210.04 95.80 L209.86 95.30 L209.70 94.80 L209.54 94.30 L209.39 93.80 L209.25 93.30 L209.12 92.80 L208.99 92.30 L208.87 91.80 L208.76 91.30 L208.64 90.80 L208.54 90.30 L208.43 89.80 L208.33 89.30 L208.23 88.80 L208.13 88.30 L208.03 87.80 L207.93 87.30 L207.83 86.80 L207.73 86.30 L207.63 85.80 L207.54 85.30 L207.44 84.80 L207.34 84.30 L207.24 83.80 L207.15 83.30 L207.05 82.80 L206.96 82.30 L206.86 81.80 L206.77 81.30 L206.68 80.80 L206.59 80.30 L206.50 79.80 L206.41 79.30 L206.33 78.80 L206.25 78.30 L206.16 77.80 L206.08 77.30 L206.00 76.80 L205.92 76.30 L205.84 75.80 L205.77 75.30 L205.69 74.80 L205.62 74.30 L205.54 73.80 L205.47 73.30 L205.40 72.80 L205.33 72.30 L205.27 71.80 L205.20 71.30 L205.13 70.80 L205.07 70.30 L205.01 69.80 L204.95 69.30 L204.89 68.80 L204.84 68.30 L204.78 67.80 L204.73 67.30 L204.67 66.80 L204.62 66.30 L204.57 65.80 L204.52 65.30 L204.47 64.80 L204.42 64.30 L204.37 63.80 L204.33 63.30 L204.29 62.80 L204.25 62.30 L204.21 61.80 L204.17 61.30 L204.14 60.80 L204.11 60.30 L204.08 59.80 L204.05 59.30 L204.02 58.80 L204.00 58.30 L203.98 57.80 L203.95 57.30 L203.93 56.80 L203.91 56.30 L203.89 55.80 L203.87 55.30 L203.86 54.80 L203.84 54.30 L203.82 53.80 L203.81 53.30 L203.80 52.80 L203.79 52.30 L203.77 51.80 L203.76 51.30 L203.75 50.80 L203.75 50.30 L203.74 49.80 L203.73 49.30 L203.72 48.80 L203.71 48.30 L203.71 47.80 L203.70 47.30 L203.69 46.80 L203.69 46.30 L203.68 45.80 L203.67 45.30 L203.67 44.80 L203.66 44.30 L203.66 43.80 L203.65 43.30 L203.65 42.80 L203.64 42.30 L203.64 41.80 L203.64 41.30 L203.63 40.80 L203.63 40.30 L203.62 39.80 L203.62 39.30 L203.62 38.80 L203.61 38.30 L203.61 37.80 L203.61 37.30 L203.61 36.80 L203.60 36.30 L203.60 35.80 L203.60 35.30 L203.59 34.80 L203.59 34.30 L203.59 33.80 L203.59 33.30 L203.59 32.80 L203.58 32.30 L203.58 31.80 L203.58 31.30 L203.58 30.80 L203.58 30.30 L203.58 29.80 L203.58 29.30 L203.57 28.80Z" fill="#e99675" stroke="#444444" stroke-width="1.25" stroke-linejoin="round"/>
<path d="M310.29 36.60 L310.29 37.10 L310.29 37.60 L310.29 38.10 L310.29 38.60 L310.28 39.10 L310.28 39.60 L310.28 40.10 L310.28 40.60 L310.28 41.10 L310.28 41.60 L310.28 42.10 L310.27 42.60 L310.27 43.10 L310.27 43.60 L310.27 44.10 L310.27 44.60 L310.27 45.10 L310.27 45.60 L310.26 46.10 L310.26 46.60 L310.26 47.10 L310.26 47.60 L310.26 48.10 L310.26 48.60 L310.26 49.10 L310.26 49.60 L310.25 50.10 L310.25 50.60 L310.25 51.10 L310.25 51.60 L310.25 52.10 L310.25 52.60 L310.25 53.10 L310.25 53.60 L310.25 54.10 L310.25 54.60 L310.25 55.10 L310.24 55.60 L310.24 56.10 L310.24 56.60 L310.24 57.10 L310.24 57.60 L310.24 58.10 L310.24 58.60 L310.24 59.10 L310.24 59.60 L310.24 60.10 L310.24 60.60 L310.24 61.10 L310.24 61.60 L310.24 62.10 L310.24 62.60 L310.24 63.10 L310.24 63.60 L310.24 64.10 L310.24 64.60 L310.24 65.10 L310.24 65.60 L310.24 66.10 L310.24 66.60 L310.24 67.10 L310.24 67.60 L310.24 68.10 L310.24 68.60 L310.24 69.10 L310.24 69.60 L310.24 70.10 L310.24 70.60 L310.24 71.10 L310.24 71.60 L310.24 72.10 L310.24 72.60 L310.24 73.10 L310.24 73.60 L310.24 74.10 L310.24 74.60 L310.24 75.10 L310.24 75.60 L310.24 76.10 L310.24 76.60 L310.24 77.10 L310.24 77.60 L310.24 78.10 L310.24 78.60 L310.24 79.10 L310.24 79.60 L310.24 80.10 L310.24 80.60 L310.24 81.10 L310.24 81.60 L310.24 82.10 L310.24 82.60 L310.24 83.10 L310.24 83.60 L310.24 84.10 L310.24 84.60 L310.24 85.10 L310.24 85.60 L310.24 86.10 L310.24 86.60 L310.24 87.10 L310.24 87.60 L310.24 88.10 L310.24 88.60 L310.24 89.10 L310.24 89.60 L310.24 90.10 L310.24 90.60 L310.24 91.10 L310.24 91.60 L310.24 92.10 L310.24 92.60 L310.24 93.10 L310.24 93.60 L310.24 94.10 L310.24 94.60 L310.24 95.10 L310.24 95.60 L310.24 96.10 L310.24 96.60 L310.24 97.10 L310.24 97.60 L310.24 98.10 L310.24 98.60 L310.24 99.10 L310.24 99.60 L310.24 100.10 L310.24 100.60 L310.24 101.10 L310.24 101.60 L310.24 102.10 L310.24 102.60 L310.24 103.10 L310.24 103.60 L310.24 104.10 L310.24 104.60 L310.24 105.10 L310.24 105.60 L310.24 106.10 L310.24 106.60 L310.24 107.10 L310.24 107.60 L310.24 108.10 L310.24 108.60 L310.24 109.10 L310.24 109.60 L310.24 110.10 L310.24 110.60 L310.24 111.10 L310.24 111.60 L310.24 112.10 L310.24 112.60 L310.24 113.10 L310.24 113.60 L310.24 114.10 L310.24 114.60 L310.24 115.10 L310.24 115.60 L310.24 116.10 L310.24 116.60 L310.24 117.10 L310.24 117.60 L310.24 118.10 L310.24 118.60 L310.24 119.10 L310.24 119.60 L310.24 120.10 L310.24 120.60 L310.24 121.10 L310.24 121.60 L310.24 122.10 L310.24 122.60 L310.24 123.10 L310.24 123.60 L310.24 124.10 L310.24 124.60 L310.24 125.10 L310.24 125.60 L310.24 126.10 L310.24 126.60 L310.24 127.10 L310.24 127.60 L310.24 128.10 L310.24 128.60 L310.24 129.10 L310.24 129.60 L310.24 130.10 L310.24 130.60 L310.24 131.10 L310.24 131.60 L310.24 132.10 L310.24 132.60 L310.24 133.10 L310.24 133.60 L310.24 134.10 L310.24 134.60 L310.24 135.10 L310.24 135.60 L310.24 136.10 L310.24 136.60 L310.24 137.10 L310.24 137.60 L310.24 138.10 L310.24 138.60 L310.24 139.10 L310.24 139.60 L310.24 140.10 L310.24 140.60 L310.24 141.10 L310.24 141.60 L310.24 142.10 L310.24 142.60 L310.24 143.10 L310.24 143.60 L310.24 144.10 L310.24 144.60 L310.24 145.10 L310.24 145.60 L310.24 146.10 L310.24 146.60 L310.24 147.10 L310.24 147.60 L310.24 148.10 L310.24 148.60 L310.24 149.10 L310.24 149.60 L310.24 150.10 L310.24 150.60 L310.24 151.10 L310.24 151.60 L310.24 152.10 L310.24 152.60 L310.24 153.10 L310.24 153.60 L310.24 154.10 L310.24 154.60 L310.24 155.10 L310.24 155.60 L310.24 156.10 L310.24 156.60 L310.24 157.10 L310.24 157.60 L310.24 158.10 L310.24 158.60 L310.24 159.10 L310.24 159.60 L310.24 160.10 L310.24 160.60 L310.24 161.10 L310.24 161.60 L310.24 162.10 L310.24 162.60 L310.24 163.10 L310.24 163.60 L310.24 164.10 L310.24 164.60 L310.24 165.10 L310.24 165.60 L310.24 166.10 L310.24 166.60 L310.24 167.10 L310.24 167.60 L310.24 168.10 L310.24 168.60 L310.24 169.10 L310.24 169.60 L310.24 170.10 L310.24 170.60 L310.24 171.10 L310.24 171.60 L310.24 172.10 L310.24 172.60 L310.24 173.10 L310.24 173.60 L310.24 174.10 L310.24 174.60 L310.24 175.10 L310.24 175.60 L310.24 176.10 L310.24 176.60 L310.24 177.10 L310.24 177.60 L310.24 178.10 L310.24 178.60 L310.24 179.10 L310.24 179.60 L310.24 180.10 L310.24 180.60 L310.24 181.10 L310.24 181.60 L310.24 182.10 L310.24 182.60 L310.24 183.10 L310.24 183.60 L310.24 184.10 L310.24 184.60 L310.24 185.10 L310.23 185.60 L310.23 186.10 L310.23 186.60 L310.23 187.10 L310.23 187.60 L310.23 188.10 L310.23 188.60 L310.23 189.10 L310.23 189.60 L310.23 190.10 L310.23 190.60 L310.23 191.10 L310.23 191.60 L310.23 192.10 L310.23 192.60 L310.23 193.10 L310.23 193.60 L310.23 194.10 L310.23 194.60 L310.23 195.10 L310.23 195.60 L310.23 196.10 L310.23 196.60 L310.23 197.10 L310.23 197.60 L310.23 198.10 L310.23 198.60 L310.23 199.10 L310.23 199.60 L310.23 200.10 L310.23 200.60 L310.23 201.10 L310.23 201.60 L310.22 202.10 L310.22 202.60 L310.22 203.10 L310.22 203.60 L310.22 204.10 L310.22 204.60 L310.22 205.10 L310.22 205.60 L310.22 206.10 L310.22 206.60 L310.22 207.10 L310.22 207.60 L310.22 208.10 L310.22 208.60 L310.22 209.10 L310.22 209.60 L310.22 210.10 L310.22 210.60 L310.22 211.10 L310.22 211.60 L310.22 212.10 L310.21 212.60 L310.21 213.10 L310.21 213.60 L310.21 214.10 L310.21 214.60 L310.21 215.10 L310.21 215.60 L310.21 216.10 L310.21 216.60 L310.21 217.10 L310.21 217.60 L310.21 218.10 L310.21 218.60 L310.21 219.10 L310.21 219.60 L310.21 220.10 L310.21 220.60 L310.20 221.10 L310.20 221.60 L310.20 222.10 L310.20 222.60 L310.20 223.10 L310.20 223.60 L310.20 224.10 L310.20 224.60 L310.20 225.10 L310.20 225.60 L310.20 226.10 L310.20 226.60 L310.20 227.10 L310.20 227.60 L310.19 228.10 L310.19 228.60 L310.19 229.10 L310.19 229.60 L310.19 230.10 L310.19 230.60 L310.18 231.10 L310.18 231.60 L310.17 232.10 L310.16 232.60 L310.15 233.10 L310.14 233.60 L310.12 234.10 L310.11 234.60 L310.09 235.10 L310.07 235.60 L310.06 236.10 L310.04 236.60 L310.02 237.10 L310.01 237.60 L309.99 238.10 L309.97 238.60 L309.95 239.10 L309.94 239.60 L309.92 240.10 L309.91 240.60 L309.89 241.10 L309.88 241.60 L309.87 242.10 L309.86 242.60 L309.85 243.10 L309.84 243.60 L309.83 244.10 L309.82 244.60 L309.81 245.10 L309.80 245.60 L309.79 246.10 L309.78 246.60 L309.77 247.10 L309.76 247.60 L309.74 248.10 L309.73 248.60 L309.71 249.10 L309.69 249.60 L309.67 250.10 L309.64 250.60 L309.61 251.10 L309.57 251.60 L309.53 252.10 L309.48 252.60 L309.43 253.10 L309.38 253.60 L309.33 254.10 L309.27 254.60 L309.21 255.10 L309.15 255.60 L309.10 256.10 L309.04 256.60 L308.98 257.10 L308.92 257.60 L308.86 258.10 L308.79 258.60 L308.72 259.10 L308.65 259.60 L308.58 260.10 L308.50 260.60 L308.43 261.10 L308.35 261.60 L308.27 262.10 L308.20 262.60 L308.12 263.10 L308.04 263.60 L307.97 264.10 L307.90 264.60 L307.83 265.10 L307.76 265.60 L307.69 266.10 L307.62 266.60 L307.55 267.10 L307.47 267.60 L307.40 268.10 L307.33 268.60 L307.26 269.10 L307.19 269.60 L307.12 270.10 L307.04 270.60 L306.97 271.10 L306.89 271.60 L306.82 272.10 L306.74 272.60 L306.67 273.10 L306.60 273.60 L306.53 274.10 L306.46 274.60 L306.39 275.10 L306.31 275.60 L306.23 276.10 L306.15 276.60 L306.06 277.10 L305.97 277.60 L305.87 278.10 L305.76 278.60 L305.64 279.10 L305.52 279.60 L305.38 280.10 L305.22 280.60 L305.06 281.10 L304.87 281.60 L304.67 282.10 L304.44 282.60 L304.20 283.10 L303.92 283.60 L303.57 284.10 L303.15 284.60 L302.68 285.10 L302.16 285.60 L301.61 286.10 L301.02 286.60 L300.39 287.10 L299.67 287.60 L298.81 288.10 L297.79 288.60 L296.31 289.10 L294.33 289.60 L292.20 290.10 L290.22 290.60 L288.23 291.10 L286.22 291.60 L284.25 292.10 L282.36 292.60 L280.55 293.10 L278.78 293.60 L277.06 294.10 L275.42 294.60 L273.87 295.10 L272.39 295.60 L270.75 296.10 L269.16 296.60 L267.97 297.10 L267.49 297.60 L268.19 298.10 L269.86 298.60 L271.87 299.10 L273.69 299.60 L275.56 300.10 L277.55 300.60 L279.59 301.10 L281.60 301.60 L283.57 302.10 L285.57 302.60 L287.56 303.10 L289.50 303.60 L291.35 304.10 L293.17 304.60 L294.96 305.10 L296.69 305.60 L298.32 306.10 L299.81 306.60 L301.16 307.10 L302.43 307.60 L303.61 308.10 L304.73 308.60 L305.78 309.10 L306.79 309.60 L307.75 310.10 L308.65 310.60 L309.50 311.10 L310.29 311.60 L310.29 311.60 L311.08 311.10 L311.93 310.60 L312.84 310.10 L313.79 309.60 L314.80 309.10 L315.86 308.60 L316.97 308.10 L318.16 307.60 L319.42 307.10 L320.77 306.60 L322.26 306.10 L323.89 305.60 L325.62 305.10 L327.41 304.60 L329.23 304.10 L331.08 303.60 L333.02 303.10 L335.01 302.60 L337.01 302.10 L338.99 301.60 L341.00 301.10 L343.03 300.60 L345.02 300.10 L346.89 299.60 L348.71 299.10 L350.73 298.60 L352.40 298.10 L353.09 297.60 L352.62 297.10 L351.42 296.60 L349.83 296.10 L348.19 295.60 L346.72 295.10 L345.16 294.60 L343.52 294.10 L341.80 293.60 L340.03 293.10 L338.23 292.60 L336.34 292.10 L334.36 291.60 L332.35 291.10 L330.37 290.60 L328.38 290.10 L326.25 289.60 L324.27 289.10 L322.79 288.60 L321.77 288.10 L320.92 287.60 L320.19 287.10 L319.56 286.60 L318.98 286.10 L318.42 285.60 L317.91 285.10 L317.43 284.60 L317.02 284.10 L316.67 283.60 L316.39 283.10 L316.14 282.60 L315.92 282.10 L315.71 281.60 L315.53 281.10 L315.36 280.60 L315.21 280.10 L315.07 279.60 L314.94 279.10 L314.82 278.60 L314.72 278.10 L314.62 277.60 L314.52 277.10 L314.43 276.60 L314.35 276.10 L314.27 275.60 L314.20 275.10 L314.12 274.60 L314.05 274.10 L313.98 273.60 L313.91 273.10 L313.84 272.60 L313.77 272.10 L313.69 271.60 L313.62 271.10 L313.54 270.60 L313.47 270.10 L313.39 269.60 L313.32 269.10 L313.25 268.60 L313.18 268.10 L313.11 267.60 L313.04 267.10 L312.97 266.60 L312.90 266.10 L312.83 265.60 L312.76 265.10 L312.68 264.60 L312.61 264.10 L312.54 263.60 L312.46 263.10 L312.39 262.60 L312.31 262.10 L312.23 261.60 L312.16 261.10 L312.08 260.60 L312.01 260.10 L311.93 259.60 L311.86 259.10 L311.79 258.60 L311.73 258.10 L311.66 257.60 L311.60 257.10 L311.55 256.60 L311.49 256.10 L311.43 255.60 L311.37 255.10 L311.31 254.60 L311.26 254.10 L311.20 253.60 L311.15 253.10 L311.10 252.60 L311.06 252.10 L311.01 251.60 L310.98 251.10 L310.94 250.60 L310.91 250.10 L310.89 249.60 L310.87 249.10 L310.86 248.60 L310.84 248.10 L310.83 247.60 L310.81 247.10 L310.80 246.60 L310.79 246.10 L310.78 245.60 L310.77 245.10 L310.76 244.60 L310.75 244.10 L310.74 243.60 L310.73 243.10 L310.72 242.60 L310.71 242.10 L310.70 241.60 L310.69 241.10 L310.68 240.60 L310.66 240.10 L310.65 239.60 L310.63 239.10 L310.61 238.60 L310.60 238.10 L310.58 237.60 L310.56 237.10 L310.54 236.60 L310.53 236.10 L310.51 235.60 L310.49 235.10 L310.48 234.60 L310.46 234.10 L310.45 233.60 L310.43 233.10 L310.42 232.60 L310.41 232.10 L310.41 231.60 L310.40 231.10 L310.39 230.60 L310.39 230.10 L310.39 229.60 L310.39 229.10 L310.39 228.60 L310.39 228.10 L310.39 227.60 L310.39 227.10 L310.39 226.60 L310.39 226.10 L310.38 225.60 L310.38 225.10 L310.38 224.60 L310.38 224.10 L310.38 223.60 L310.38 223.10 L310.38 222.60 L310.38 222.10 L310.38 221.60 L310.38 221.10 L310.38 220.60 L310.38 220.10 L310.38 219.60 L310.38 219.10 L310.38 218.60 L310.37 218.10 L310.37 217.60 L310.37 217.10 L310.37 216.60 L310.37 216.10 L310.37 215.60 L310.37 215.10 L310.37 214.60 L310.37 214.10 L310.37 213.60 L310.37 213.10 L310.37 212.60 L310.37 212.10 L310.37 211.60 L310.37 211.10 L310.37 210.60 L310.37 210.10 L310.37 209.60 L310.36 209.10 L310.36 208.60 L310.36 208.10 L310.36 207.60 L310.36 207.10 L310.36 206.60 L310.36 206.10 L310.36 205.60 L310.36 205.10 L310.36 204.60 L310.36 204.10 L310.36 203.60 L310.36 203.10 L310.36 202.60 L310.36 202.10 L310.36 201.60 L310.36 201.10 L310.36 200.60 L310.36 200.10 L310.36 199.60 L310.36 199.10 L310.36 198.60 L310.36 198.10 L310.36 197.60 L310.35 197.10 L310.35 196.60 L310.35 196.10 L310.35 195.60 L310.35 195.10 L310.35 194.60 L310.35 194.10 L310.35 193.60 L310.35 193.10 L310.35 192.60 L310.35 192.10 L310.35 191.60 L310.35 191.10 L310.35 190.60 L310.35 190.10 L310.35 189.60 L310.35 189.10 L310.35 188.60 L310.35 188.10 L310.35 187.60 L310.35 187.10 L310.35 186.60 L310.35 186.10 L310.35 185.60 L310.35 185.10 L310.35 184.60 L310.35 184.10 L310.35 183.60 L310.35 183.10 L310.35 182.60 L310.35 182.10 L310.35 181.60 L310.35 181.10 L310.35 180.60 L310.35 180.10 L310.35 179.60 L310.35 179.10 L310.35 178.60 L310.35 178.10 L310.35 177.60 L310.35 177.10 L310.35 176.60 L310.34 176.10 L310.34 175.60 L310.34 175.10 L310.34 174.60 L310.34 174.10 L310.34 173.60 L310.34 173.10 L310.34 172.60 L310.34 172.10 L310.34 171.60 L310.34 171.10 L310.34 170.60 L310.34 170.10 L310.34 169.60 L310.34 169.10 L310.34 168.60 L310.34 168.10 L310.34 167.60 L310.34 167.10 L310.34 166.60 L310.34 166.10 L310.34 165.60 L310.34 165.10 L310.34 164.60 L310.34 164.10 L310.34 163.60 L310.34 163.10 L310.34 162.60 L310.34 162.10 L310.34 161.60 L310.34 161.10 L310.34 160.60 L310.34 160.10 L310.34 159.60 L310.34 159.10 L310.34 158.60 L310.34 158.10 L310.34 157.60 L310.34 157.10 L310.34 156.60 L310.34 156.10 L310.34 155.60 L310.34 155.10 L310.34 154.60 L310.34 154.10 L310.34 153.60 L310.34 153.10 L310.34 152.60 L310.34 152.10 L310.34 151.60 L310.34 151.10 L310.34 150.60 L310.34 150.10 L310.34 149.60 L310.34 149.10 L310.34 148.60 L310.34 148.10 L310.34 147.60 L310.34 147.10 L310.34 146.60 L310.34 146.10 L310.34 145.60 L310.34 145.10 L310.34 144.60 L310.34 144.10 L310.34 143.60 L310.34 143.10 L310.34 142.60 L310.34 142.10 L310.34 141.60 L310.34 141.10 L310.34 140.60 L310.34 140.10 L310.34 139.60 L310.34 139.10 L310.34 138.60 L310.34 138.10 L310.34 137.60 L310.34 137.10 L310.34 136.60 L310.34 136.10 L310.34 135.60 L310.34 135.10 L310.34 134.60 L310.34 134.10 L310.34 133.60 L310.34 133.10 L310.34 132.60 L310.34 132.10 L310.34 131.60 L310.34 131.10 L310.34 130.60 L310.34 130.10 L310.34 129.60 L310.34 129.10 L310.34 128.60 L310.34 128.10 L310.34 127.60 L310.34 127.10 L310.34 126.60 L310.34 126.10 L310.34 125.60 L310.34 125.10 L310.34 124.60 L310.34 124.10 L310.34 123.60 L310.34 123.10 L310.34 122.60 L310.34 122.10 L310.34 121.60 L310.34 121.10 L310.34 120.60 L310.34 120.10 L310.34 119.60 L310.34 119.10 L310.34 118.60 L310.34 118.10 L310.34 117.60 L310.34 117.10 L310.34 116.60 L310.34 116.10 L310.34 115.60 L310.34 115.10 L310.34 114.60 L310.34 114.10 L310.34 113.60 L310.34 113.10 L310.34 112.60 L310.34 112.10 L310.34 111.60 L310.34 111.10 L310.34 110.60 L310.34 110.10 L310.34 109.60 L310.34 109.10 L310.34 108.60 L310.34 108.10 L310.34 107.60 L310.34 107.10 L310.34 106.60 L310.34 106.10 L310.34 105.60 L310.34 105.10 L310.34 104.60 L310.34 104.10 L310.34 103.60 L310.34 103.10 L310.34 102.60 L310.34 102.10 L310.34 101.60 L310.34 101.10 L310.34 100.60 L310.34 100.10 L310.34 99.60 L310.34 99.10 L310.34 98.60 L310.34 98.10 L310.34 97.60 L310.34 97.10 L310.34 96.60 L310.34 96.10 L310.34 95.60 L310.34 95.10 L310.34 94.60 L310.34 94.10 L310.34 93.60 L310.34 93.10 L310.34 92.60 L310.34 92.10 L310.34 91.60 L310.34 91.10 L310.34 90.60 L310.34 90.10 L310.34 89.60 L310.34 89.10 L310.34 88.60 L310.34 88.10 L310.34 87.60 L310.34 87.10 L310.34 86.60 L310.34 86.10 L310.34 85.60 L310.34 85.10 L310.34 84.60 L310.34 84.10 L310.34 83.60 L310.34 83.10 L310.34 82.60 L310.34 82.10 L310.34 81.60 L310.34 81.10 L310.34 80.60 L310.34 80.10 L310.34 79.60 L310.34 79.10 L310.34 78.60 L310.34 78.10 L310.34 77.60 L310.34 77.10 L310.34 76.60 L310.34 76.10 L310.34 75.60 L310.34 75.10 L310.34 74.60 L310.34 74.10 L310.34 73.60 L310.34 73.10 L310.34 72.60 L310.34 72.10 L310.34 71.60 L310.34 71.10 L310.34 70.60 L310.34 70.10 L310.34 69.60 L310.34 69.10 L310.34 68.60 L310.34 68.10 L310.34 67.60 L310.34 67.10 L310.34 66.60 L310.34 66.10 L310.34 65.60 L310.34 65.10 L310.34 64.60 L310.34 64.10 L310.34 63.60 L310.34 63.10 L310.34 62.60 L310.34 62.10 L310.34 61.60 L310.34 61.10 L310.34 60.60 L310.34 60.10 L310.34 59.60 L310.34 59.10 L310.34 58.60 L310.34 58.10 L310.34 57.60 L310.34 57.10 L310.34 56.60 L310.34 56.10 L310.34 55.60 L310.34 55.10 L310.34 54.60 L310.34 54.10 L310.34 53.60 L310.33 53.10 L310.33 52.60 L310.33 52.10 L310.33 51.60 L310.33 51.10 L310.33 50.60 L310.33 50.10 L310.33 49.60 L310.33 49.10 L310.32 48.60 L310.32 48.10 L310.32 47.60 L310.32 47.10 L310.32 46.60 L310.32 46.10 L310.32 45.60 L310.32 45.10 L310.31 44.60 L310.31 44.10 L310.31 43.60 L310.31 43.10 L310.31 42.60 L310.31 42.10 L310.31 41.60 L310.30 41.10 L310.30 40.60 L310.30 40.10 L310.30 39.60 L310.30 39.10 L310.30 38.60 L310.30 38.10 L310.29 37.60 L310.29 37.10 L310.29 36.60Z" fill="#95a3c3" stroke="#444444" stroke-width="1.25" stroke-linejoin="round"/>
<path d="M417.01 31.20 L417.01 31.70 L417.01 32.20 L417.01 32.70 L417.00 33.20 L417.00 33.70 L417.00 34.20 L417.00 34.70 L417.00 35.20 L417.00 35.70 L417.00 36.20 L417.00 36.70 L416.99 37.20 L416.99 37.70 L416.99 38.20 L416.99 38.70 L416.99 39.20 L416.98 39.70 L416.98 40.20 L416.98 40.70 L416.98 41.20 L416.97 41.70 L416.97 42.20 L416.97 42.70 L416.97 43.20 L416.96 43.70 L416.96 44.20 L416.96 44.70 L416.96 45.20 L416.95 45.70 L416.95 46.20 L416.95 46.70 L416.95 47.20 L416.94 47.70 L416.94 48.20 L416.94 48.70 L416.93 49.20 L416.93 49.70 L416.93 50.20 L416.92 50.70 L416.92 51.20 L416.92 51.70 L416.91 52.20 L416.91 52.70 L416.90 53.20 L416.90 53.70 L416.90 54.20 L416.89 54.70 L416.89 55.20 L416.88 55.70 L416.88 56.20 L416.87 56.70 L416.87 57.20 L416.86 57.70 L416.86 58.20 L416.85 58.70 L416.84 59.20 L416.84 59.70 L416.83 60.20 L416.83 60.70 L416.82 61.20 L416.81 61.70 L416.80 62.20 L416.80 62.70 L416.79 63.20 L416.78 63.70 L416.77 64.20 L416.77 64.70 L416.76 65.20 L416.75 65.70 L416.74 66.20 L416.73 66.70 L416.72 67.20 L416.71 67.70 L416.69 68.20 L416.68 68.70 L416.66 69.20 L416.65 69.70 L416.63 70.20 L416.60 70.70 L416.58 71.20 L416.56 71.70 L416.53 72.20 L416.50 72.70 L416.47 73.20 L416.44 73.70 L416.41 74.20 L416.38 74.70 L416.34 75.20 L416.31 75.70 L416.27 76.20 L416.24 76.70 L416.20 77.20 L416.16 77.70 L416.13 78.20 L416.09 78.70 L416.05 79.20 L416.00 79.70 L415.96 80.20 L415.92 80.70 L415.87 81.20 L415.82 81.70 L415.77 82.20 L415.72 82.70 L415.66 83.20 L415.60 83.70 L415.54 84.20 L415.48 84.70 L415.42 85.20 L415.35 85.70 L415.28 86.20 L415.21 86.70 L415.13 87.20 L415.05 87.70 L414.97 88.20 L414.89 88.70 L414.81 89.20 L414.72 89.70 L414.63 90.20 L414.54 90.70 L414.45 91.20 L414.36 91.70 L414.26 92.20 L414.17 92.70 L414.07 93.20 L413.97 93.70 L413.87 94.20 L413.76 94.70 L413.66 95.20 L413.55 95.70 L413.44 96.20 L413.33 96.70 L413.22 97.20 L413.10 97.70 L412.99 98.20 L412.87 98.70 L412.75 99.20 L412.64 99.70 L412.52 100.20 L412.40 100.70 L412.27 101.20 L412.15 101.70 L412.03 102.20 L411.90 102.70 L411.77 103.20 L411.64 103.70 L411.51 104.20 L411.37 104.70 L411.23 105.20 L411.09 105.70 L410.94 106.20 L410.79 106.70 L410.64 107.20 L410.48 107.70 L410.31 108.20 L410.13 108.70 L409.95 109.20 L409.77 109.70 L409.57 110.20 L409.37 110.70 L409.17 111.20 L408.95 111.70 L408.74 112.20 L408.52 112.70 L408.29 113.20 L408.06 113.70 L407.83 114.20 L407.60 114.70 L407.36 115.20 L407.13 115.70 L406.89 116.20 L406.65 116.70 L406.41 117.20 L406.16 117.70 L405.91 118.20 L405.65 118.70 L405.39 119.20 L405.11 119.70 L404.83 120.20 L404.54 120.70 L404.24 121.20 L403.93 121.70 L403.62 122.20 L403.31 122.70 L403.01 123.20 L402.71 123.70 L402.43 124.20 L402.16 124.70 L401.90 125.20 L401.66 125.70 L401.44 126.20 L401.23 126.70 L401.02 127.20 L400.83 127.70 L400.63 128.20 L400.45 128.70 L400.26 129.20 L400.07 129.70 L399.88 130.20 L399.68 130.70 L399.48 131.20 L399.27 131.70 L399.05 132.20 L398.83 132.70 L398.60 133.20 L398.36 133.70 L398.12 134.20 L397.88 134.70 L397.63 135.20 L397.37 135.70 L397.12 136.20 L396.86 136.70 L396.61 137.20 L396.35 137.70 L396.09 138.20 L395.83 138.70 L395.57 139.20 L395.31 139.70 L395.05 140.20 L394.79 140.70 L394.53 141.20 L394.27 141.70 L394.01 142.20 L393.75 142.70 L393.49 143.20 L393.23 143.70 L392.97 144.20 L392.71 144.70 L392.45 145.20 L392.19 145.70 L391.93 146.20 L391.67 146.70 L391.42 147.20 L391.16 147.70 L390.91 148.20 L390.66 148.70 L390.41 149.20 L390.16 149.70 L389.91 150.20 L389.67 150.70 L389.42 151.20 L389.17 151.70 L388.93 152.20 L388.68 152.70 L388.43 153.20 L388.19 153.70 L387.94 154.20 L387.69 154.70 L387.44 155.20 L387.18 155.70 L386.93 156.20 L386.67 156.70 L386.41 157.20 L386.15 157.70 L385.89 158.20 L385.62 158.70 L385.35 159.20 L385.08 159.70 L384.80 160.20 L384.53 160.70 L384.25 161.20 L383.97 161.70 L383.70 162.20 L383.42 162.70 L383.15 163.20 L382.87 163.70 L382.60 164.20 L382.33 164.70 L382.06 165.20 L381.79 165.70 L381.52 166.20 L381.25 166.70 L380.98 167.20 L380.71 167.70 L380.45 168.20 L380.17 168.70 L379.90 169.20 L379.63 169.70 L379.35 170.20 L379.07 170.70 L378.79 171.20 L378.51 171.70 L378.24 172.20 L377.96 172.70 L377.69 173.20 L377.42 173.70 L377.16 174.20 L376.91 174.70 L376.66 175.20 L376.42 175.70 L376.19 176.20 L375.96 176.70 L375.73 177.20 L375.52 177.70 L375.32 178.20 L375.14 178.70 L374.99 179.20 L374.87 179.70 L374.79 180.20 L374.74 180.70 L374.74 181.20 L374.78 181.70 L374.86 182.20 L374.96 182.70 L375.11 183.20 L375.28 183.70 L375.50 184.20 L375.74 184.70 L376.02 185.20 L376.34 185.70 L376.68 186.20 L377.05 186.70 L377.44 187.20 L377.86 187.70 L378.29 188.20 L378.74 188.70 L379.21 189.20 L379.69 189.70 L380.18 190.20 L380.70 190.70 L381.22 191.20 L381.76 191.70 L382.32 192.20 L382.90 192.70 L383.49 193.20 L384.09 193.70 L384.72 194.20 L385.35 194.70 L386.00 195.20 L386.66 195.70 L387.34 196.20 L388.03 196.70 L388.73 197.20 L389.44 197.70 L390.15 198.20 L390.88 198.70 L391.60 199.20 L392.33 199.70 L393.05 200.20 L393.77 200.70 L394.49 201.20 L395.21 201.70 L395.91 202.20 L396.62 202.70 L397.31 203.20 L397.99 203.70 L398.66 204.20 L399.32 204.70 L399.97 205.20 L400.60 205.70 L401.23 206.20 L401.83 206.70 L402.42 207.20 L402.99 207.70 L403.55 208.20 L404.09 208.70 L404.60 209.20 L405.10 209.70 L405.57 210.20 L406.03 210.70 L406.47 211.20 L406.89 211.70 L407.29 212.20 L407.68 212.70 L408.04 213.20 L408.39 213.70 L408.72 214.20 L409.04 214.70 L409.35 215.20 L409.64 215.70 L409.92 216.20 L410.19 216.70 L410.45 217.20 L410.69 217.70 L410.93 218.20 L411.16 218.70 L411.38 219.20 L411.58 219.70 L411.78 220.20 L411.97 220.70 L412.16 221.20 L412.33 221.70 L412.50 222.20 L412.65 222.70 L412.80 223.20 L412.94 223.70 L413.07 224.20 L413.19 224.70 L413.31 225.20 L413.41 225.70 L413.51 226.20 L413.60 226.70 L413.69 227.20 L413.77 227.70 L413.85 228.20 L413.92 228.70 L413.99 229.20 L414.06 229.70 L414.12 230.20 L414.18 230.70 L414.24 231.20 L414.30 231.70 L414.35 232.20 L414.40 232.70 L414.45 233.20 L414.50 233.70 L414.55 234.20 L414.60 234.70 L414.64 235.20 L414.69 235.70 L414.73 236.20 L414.78 236.70 L414.82 237.20 L414.86 237.70 L414.91 238.20 L414.95 238.70 L414.99 239.20 L415.03 239.70 L415.07 240.20 L415.11 240.70 L415.15 241.20 L415.19 241.70 L415.23 242.20 L415.27 242.70 L415.30 243.20 L415.33 243.70 L415.37 244.20 L415.40 244.70 L415.43 245.20 L415.46 245.70 L415.49 246.20 L415.51 246.70 L415.54 247.20 L415.56 247.70 L415.59 248.20 L415.61 248.70 L415.63 249.20 L415.65 249.70 L415.67 250.20 L415.69 250.70 L415.71 251.20 L415.73 251.70 L415.75 252.20 L415.77 252.70 L415.79 253.20 L415.81 253.70 L415.82 254.20 L415.84 254.70 L415.86 255.20 L415.87 255.70 L415.89 256.20 L415.91 256.70 L415.92 257.20 L415.94 257.70 L415.96 258.20 L415.97 258.70 L415.99 259.20 L416.01 259.70 L416.02 260.20 L416.04 260.70 L416.06 261.20 L416.07 261.70 L416.09 262.20 L416.11 262.70 L416.12 263.20 L416.14 263.70 L416.16 264.20 L416.17 264.70 L416.19 265.20 L416.21 265.70 L416.22 266.20 L416.24 266.70 L416.26 267.20 L416.27 267.70 L416.29 268.20 L416.30 268.70 L416.32 269.20 L416.34 269.70 L416.35 270.20 L416.37 270.70 L416.38 271.20 L416.40 271.70 L416.41 272.20 L416.43 272.70 L416.44 273.20 L416.45 273.70 L416.47 274.20 L416.48 274.70 L416.49 275.20 L416.51 275.70 L416.52 276.20 L416.53 276.70 L416.55 277.20 L416.56 277.70 L416.57 278.20 L416.58 278.70 L416.59 279.20 L416.60 279.70 L416.61 280.20 L416.62 280.70 L416.63 281.20 L416.64 281.70 L416.65 282.20 L416.66 282.70 L416.67 283.20 L416.68 283.70 L416.69 284.20 L416.70 284.70 L416.71 285.20 L416.72 285.70 L416.72 286.20 L416.73 286.70 L416.74 287.20 L416.75 287.70 L416.76 288.20 L416.77 288.70 L416.77 289.20 L416.78 289.70 L416.79 290.20 L416.80 290.70 L416.80 291.20 L416.81 291.70 L416.82 292.20 L416.83 292.70 L416.83 293.20 L416.84 293.70 L416.85 294.20 L416.85 294.70 L416.86 295.20 L416.86 295.70 L416.87 296.20 L416.88 296.70 L416.88 297.20 L416.89 297.70 L416.89 298.20 L416.90 298.70 L416.90 299.20 L416.91 299.70 L416.91 300.20 L416.91 300.70 L416.92 301.20 L416.92 301.70 L416.93 302.20 L416.93 302.70 L416.93 303.20 L416.94 303.70 L416.94 304.20 L416.95 304.70 L416.95 305.20 L416.95 305.70 L416.96 306.20 L416.96 306.70 L416.96 307.20 L416.97 307.70 L416.97 308.20 L416.97 308.70 L416.98 309.20 L416.98 309.70 L416.98 310.20 L416.99 310.70 L416.99 311.20 L416.99 311.70 L416.99 312.20 L417.00 312.70 L417.00 313.20 L417.00 313.70 L417.00 314.20 L417.00 314.70 L417.00 315.20 L417.01 315.70 L417.01 316.20 L417.01 316.20 L417.01 315.70 L417.01 315.20 L417.01 314.70 L417.02 314.20 L417.02 313.70 L417.02 313.20 L417.02 312.70 L417.02 312.20 L417.03 311.70 L417.03 311.20 L417.03 310.70 L417.03 310.20 L417.04 309.70 L417.04 309.20 L417.04 308.70 L417.05 308.20 L417.05 307.70 L417.05 307.20 L417.06 306.70 L417.06 306.20 L417.06 305.70 L417.07 305.20 L417.07 304.70 L417.07 304.20 L417.08 303.70 L417.08 303.20 L417.09 302.70 L417.09 302.20 L417.09 301.70 L417.10 301.20 L417.10 300.70 L417.11 300.20 L417.11 299.70 L417.12 299.20 L417.12 298.70 L417.13 298.20 L417.13 297.70 L417.14 297.20 L417.14 296.70 L417.15 296.20 L417.15 295.70 L417.16 295.20 L417.17 294.70 L417.17 294.20 L417.18 293.70 L417.18 293.20 L417.19 292.70 L417.20 292.20 L417.21 291.70 L417.21 291.20 L417.22 290.70 L417.23 290.20 L417.24 289.70 L417.24 289.20 L417.25 288.70 L417.26 288.20 L417.27 287.70 L417.28 287.20 L417.28 286.70 L417.29 286.20 L417.30 285.70 L417.31 285.20 L417.32 284.70 L417.33 284.20 L417.34 283.70 L417.35 283.20 L417.36 282.70 L417.37 282.20 L417.38 281.70 L417.39 281.20 L417.40 280.70 L417.41 280.20 L417.42 279.70 L417.43 279.20 L417.44 278.70 L417.45 278.20 L417.46 277.70 L417.47 277.20 L417.48 276.70 L417.50 276.20 L417.51 275.70 L417.52 275.20 L417.54 274.70 L417.55 274.20 L417.56 273.70 L417.58 273.20 L417.59 272.70 L417.61 272.20 L417.62 271.70 L417.64 271.20 L417.65 270.70 L417.67 270.20 L417.68 269.70 L417.70 269.20 L417.71 268.70 L417.73 268.20 L417.74 267.70 L417.76 267.20 L417.78 266.70 L417.79 266.20 L417.81 265.70 L417.83 265.20 L417.84 264.70 L417.86 264.20 L417.88 263.70 L417.89 263.20 L417.91 262.70 L417.93 262.20 L417.94 261.70 L417.96 261.20 L417.98 260.70 L417.99 260.20 L418.01 259.70 L418.03 259.20 L418.04 258.70 L418.06 258.20 L418.08 257.70 L418.09 257.20 L418.11 256.70 L418.13 256.20 L418.14 255.70 L418.16 255.20 L418.18 254.70 L418.19 254.20 L418.21 253.70 L418.23 253.20 L418.25 252.70 L418.27 252.20 L418.28 251.70 L418.30 251.20 L418.32 250.70 L418.34 250.20 L418.36 249.70 L418.39 249.20 L418.41 248.70 L418.43 248.20 L418.45 247.70 L418.48 247.20 L418.50 246.70 L418.53 246.20 L418.56 245.70 L418.59 245.20 L418.62 244.70 L418.65 244.20 L418.68 243.70 L418.72 243.20 L418.75 242.70 L418.79 242.20 L418.83 241.70 L418.86 241.20 L418.90 240.70 L418.94 240.20 L418.98 239.70 L419.03 239.20 L419.07 238.70 L419.11 238.20 L419.15 237.70 L419.20 237.20 L419.24 236.70 L419.28 236.20 L419.33 235.70 L419.37 235.20 L419.42 234.70 L419.47 234.20 L419.51 233.70 L419.56 233.20 L419.61 232.70 L419.67 232.20 L419.72 231.70 L419.78 231.20 L419.84 230.70 L419.90 230.20 L419.96 229.70 L420.03 229.20 L420.10 228.70 L420.17 228.20 L420.25 227.70 L420.33 227.20 L420.41 226.70 L420.50 226.20 L420.60 225.70 L420.71 225.20 L420.82 224.70 L420.94 224.20 L421.07 223.70 L421.21 223.20 L421.36 222.70 L421.52 222.20 L421.69 221.70 L421.86 221.20 L422.04 220.70 L422.23 220.20 L422.43 219.70 L422.64 219.20 L422.86 218.70 L423.08 218.20 L423.32 217.70 L423.57 217.20 L423.83 216.70 L424.10 216.20 L424.38 215.70 L424.67 215.20 L424.97 214.70 L425.29 214.20 L425.63 213.70 L425.97 213.20 L426.34 212.70 L426.72 212.20 L427.13 211.70 L427.55 211.20 L427.98 210.70 L428.44 210.20 L428.92 209.70 L429.41 209.20 L429.93 208.70 L430.47 208.20 L431.02 207.70 L431.60 207.20 L432.19 206.70 L432.79 206.20 L433.41 205.70 L434.05 205.20 L434.69 204.70 L435.35 204.20 L436.03 203.70 L436.71 203.20 L437.40 202.70 L438.10 202.20 L438.81 201.70 L439.52 201.20 L440.24 200.70 L440.96 200.20 L441.69 199.70 L442.42 199.20 L443.14 198.70 L443.86 198.20 L444.58 197.70 L445.29 197.20 L445.99 196.70 L446.68 196.20 L447.35 195.70 L448.01 195.20 L448.66 194.70 L449.30 194.20 L449.92 193.70 L450.53 193.20 L451.12 192.70 L451.69 192.20 L452.25 191.70 L452.79 191.20 L453.32 190.70 L453.83 190.20 L454.33 189.70 L454.81 189.20 L455.28 188.70 L455.73 188.20 L456.16 187.70 L456.57 187.20 L456.97 186.70 L457.34 186.20 L457.68 185.70 L457.99 185.20 L458.27 184.70 L458.52 184.20 L458.73 183.70 L458.91 183.20 L459.05 182.70 L459.16 182.20 L459.23 181.70 L459.27 181.20 L459.27 180.70 L459.23 180.20 L459.15 179.70 L459.03 179.20 L458.88 178.70 L458.70 178.20 L458.50 177.70 L458.28 177.20 L458.06 176.70 L457.83 176.20 L457.60 175.70 L457.36 175.20 L457.11 174.70 L456.86 174.20 L456.60 173.70 L456.33 173.20 L456.06 172.70 L455.78 172.20 L455.50 171.70 L455.22 171.20 L454.94 170.70 L454.66 170.20 L454.39 169.70 L454.11 169.20 L453.84 168.70 L453.57 168.20 L453.30 167.70 L453.03 167.20 L452.77 166.70 L452.50 166.20 L452.23 165.70 L451.96 165.20 L451.69 164.70 L451.42 164.20 L451.14 163.70 L450.87 163.20 L450.60 162.70 L450.32 162.20 L450.04 161.70 L449.77 161.20 L449.49 160.70 L449.21 160.20 L448.94 159.70 L448.67 159.20 L448.40 158.70 L448.13 158.20 L447.87 157.70 L447.60 157.20 L447.34 156.70 L447.09 156.20 L446.83 155.70 L446.58 155.20 L446.33 154.70 L446.08 154.20 L445.83 153.70 L445.58 153.20 L445.34 152.70 L445.09 152.20 L444.84 151.70 L444.60 151.20 L444.35 150.70 L444.10 150.20 L443.86 149.70 L443.61 149.20 L443.36 148.70 L443.11 148.20 L442.86 147.70 L442.60 147.20 L442.35 146.70 L442.09 146.20 L441.83 145.70 L441.57 145.20 L441.31 144.70 L441.05 144.20 L440.79 143.70 L440.53 143.20 L440.27 142.70 L440.00 142.20 L439.74 141.70 L439.48 141.20 L439.22 140.70 L438.96 140.20 L438.70 139.70 L438.45 139.20 L438.19 138.70 L437.93 138.20 L437.67 137.70 L437.41 137.20 L437.15 136.70 L436.90 136.20 L436.64 135.70 L436.39 135.20 L436.14 134.70 L435.90 134.20 L435.66 133.70 L435.42 133.20 L435.19 132.70 L434.97 132.20 L434.75 131.70 L434.54 131.20 L434.34 130.70 L434.14 130.20 L433.95 129.70 L433.76 129.20 L433.57 128.70 L433.38 128.20 L433.19 127.70 L433.00 127.20 L432.79 126.70 L432.58 126.20 L432.35 125.70 L432.11 125.20 L431.86 124.70 L431.59 124.20 L431.30 123.70 L431.01 123.20 L430.71 122.70 L430.40 122.20 L430.09 121.70 L429.78 121.20 L429.48 120.70 L429.19 120.20 L428.90 119.70 L428.63 119.20 L428.37 118.70 L428.11 118.20 L427.86 117.70 L427.61 117.20 L427.37 116.70 L427.13 116.20 L426.89 115.70 L426.65 115.20 L426.42 114.70 L426.19 114.20 L425.95 113.70 L425.73 113.20 L425.50 112.70 L425.28 112.20 L425.06 111.70 L424.85 111.20 L424.64 110.70 L424.44 110.20 L424.25 109.70 L424.06 109.20 L423.88 108.70 L423.71 108.20 L423.54 107.70 L423.38 107.20 L423.22 106.70 L423.07 106.20 L422.93 105.70 L422.78 105.20 L422.64 104.70 L422.51 104.20 L422.38 103.70 L422.24 103.20 L422.12 102.70 L421.99 102.20 L421.87 101.70 L421.74 101.20 L421.62 100.70 L421.50 100.20 L421.38 99.70 L421.26 99.20 L421.15 98.70 L421.03 98.20 L420.91 97.70 L420.80 97.20 L420.69 96.70 L420.58 96.20 L420.47 95.70 L420.36 95.20 L420.25 94.70 L420.15 94.20 L420.05 93.70 L419.95 93.20 L419.85 92.70 L419.75 92.20 L419.66 91.70 L419.57 91.20 L419.48 90.70 L419.39 90.20 L419.30 89.70 L419.21 89.20 L419.13 88.70 L419.04 88.20 L418.96 87.70 L418.89 87.20 L418.81 86.70 L418.74 86.20 L418.67 85.70 L418.60 85.20 L418.53 84.70 L418.47 84.20 L418.41 83.70 L418.36 83.20 L418.30 82.70 L418.25 82.20 L418.20 81.70 L418.15 81.20 L418.10 80.70 L418.06 80.20 L418.01 79.70 L417.97 79.20 L417.93 78.70 L417.89 78.20 L417.85 77.70 L417.82 77.20 L417.78 76.70 L417.74 76.20 L417.71 75.70 L417.67 75.20 L417.64 74.70 L417.61 74.20 L417.57 73.70 L417.54 73.20 L417.51 72.70 L417.49 72.20 L417.46 71.70 L417.43 71.20 L417.41 70.70 L417.39 70.20 L417.37 69.70 L417.35 69.20 L417.34 68.70 L417.32 68.20 L417.31 67.70 L417.30 67.20 L417.29 66.70 L417.28 66.20 L417.27 65.70 L417.26 65.20 L417.25 64.70 L417.24 64.20 L417.23 63.70 L417.23 63.20 L417.22 62.70 L417.21 62.20 L417.20 61.70 L417.20 61.20 L417.19 60.70 L417.18 60.20 L417.18 59.70 L417.17 59.20 L417.17 58.70 L417.16 58.20 L417.16 57.70 L417.15 57.20 L417.14 56.70 L417.14 56.20 L417.13 55.70 L417.13 55.20 L417.13 54.70 L417.12 54.20 L417.12 53.70 L417.11 53.20 L417.11 52.70 L417.10 52.20 L417.10 51.70 L417.10 51.20 L417.09 50.70 L417.09 50.20 L417.09 49.70 L417.08 49.20 L417.08 48.70 L417.08 48.20 L417.07 47.70 L417.07 47.20 L417.07 46.70 L417.07 46.20 L417.06 45.70 L417.06 45.20 L417.06 44.70 L417.05 44.20 L417.05 43.70 L417.05 43.20 L417.05 42.70 L417.04 42.20 L417.04 41.70 L417.04 41.20 L417.04 40.70 L417.03 40.20 L417.03 39.70 L417.03 39.20 L417.03 38.70 L417.03 38.20 L417.02 37.70 L417.02 37.20 L417.02 36.70 L417.02 36.20 L417.02 35.70 L417.02 35.20 L417.02 34.70 L417.01 34.20 L417.01 33.70 L417.01 33.20 L417.01 32.70 L417.01 32.20 L417.01 31.70 L417.01 31.20Z" fill="#db96c0" stroke="#444444" stroke-width="1.25" stroke-linejoin="round"/>
<path d="M523.72 31.20 L523.72 31.70 L523.72 32.20 L523.72 32.70 L523.72 33.20 L523.72 33.70 L523.71 34.20 L523.71 34.70 L523.71 35.20 L523.71 35.70 L523.71 36.20 L523.70 36.70 L523.70 37.20 L523.70 37.70 L523.70 38.20 L523.70 38.70 L523.70 39.20 L523.69 39.70 L523.69 40.20 L523.69 40.70 L523.69 41.20 L523.69 41.70 L523.68 42.20 L523.68 42.70 L523.68 43.20 L523.68 43.70 L523.68 44.20 L523.68 44.70 L523.67 45.20 L523.67 45.70 L523.67 46.20 L523.67 46.70 L523.67 47.20 L523.67 47.70 L523.66 48.20 L523.66 48.70 L523.66 49.20 L523.66 49.70 L523.66 50.20 L523.66 50.70 L523.66 51.20 L523.65 51.70 L523.65 52.20 L523.65 52.70 L523.65 53.20 L523.65 53.70 L523.65 54.20 L523.65 54.70 L523.65 55.20 L523.64 55.70 L523.64 56.20 L523.64 56.70 L523.64 57.20 L523.64 57.70 L523.64 58.20 L523.64 58.70 L523.64 59.20 L523.64 59.70 L523.63 60.20 L523.63 60.70 L523.63 61.20 L523.63 61.70 L523.63 62.20 L523.63 62.70 L523.63 63.20 L523.63 63.70 L523.63 64.20 L523.62 64.70 L523.62 65.20 L523.62 65.70 L523.62 66.20 L523.62 66.70 L523.62 67.20 L523.62 67.70 L523.62 68.20 L523.62 68.70 L523.61 69.20 L523.61 69.70 L523.61 70.20 L523.61 70.70 L523.61 71.20 L523.61 71.70 L523.61 72.20 L523.60 72.70 L523.60 73.20 L523.60 73.70 L523.60 74.20 L523.60 74.70 L523.60 75.20 L523.59 75.70 L523.59 76.20 L523.59 76.70 L523.59 77.20 L523.59 77.70 L523.59 78.20 L523.58 78.70 L523.58 79.20 L523.58 79.70 L523.58 80.20 L523.58 80.70 L523.57 81.20 L523.57 81.70 L523.57 82.20 L523.57 82.70 L523.56 83.20 L523.56 83.70 L523.56 84.20 L523.56 84.70 L523.55 85.20 L523.55 85.70 L523.55 86.20 L523.55 86.70 L523.54 87.20 L523.54 87.70 L523.54 88.20 L523.53 88.70 L523.53 89.20 L523.53 89.70 L523.52 90.20 L523.52 90.70 L523.51 91.20 L523.50 91.70 L523.50 92.20 L523.49 92.70 L523.48 93.20 L523.47 93.70 L523.46 94.20 L523.45 94.70 L523.44 95.20 L523.43 95.70 L523.42 96.20 L523.41 96.70 L523.40 97.20 L523.38 97.70 L523.37 98.20 L523.36 98.70 L523.34 99.20 L523.33 99.70 L523.32 100.20 L523.30 100.70 L523.29 101.20 L523.27 101.70 L523.26 102.20 L523.24 102.70 L523.22 103.20 L523.20 103.70 L523.18 104.20 L523.17 104.70 L523.15 105.20 L523.12 105.70 L523.10 106.20 L523.08 106.70 L523.06 107.20 L523.04 107.70 L523.01 108.20 L522.99 108.70 L522.96 109.20 L522.93 109.70 L522.91 110.20 L522.88 110.70 L522.85 111.20 L522.82 111.70 L522.79 112.20 L522.76 112.70 L522.72 113.20 L522.69 113.70 L522.65 114.20 L522.62 114.70 L522.58 115.20 L522.54 115.70 L522.50 116.20 L522.46 116.70 L522.42 117.20 L522.38 117.70 L522.33 118.20 L522.28 118.70 L522.24 119.20 L522.19 119.70 L522.14 120.20 L522.08 120.70 L522.03 121.20 L521.97 121.70 L521.92 122.20 L521.86 122.70 L521.80 123.20 L521.74 123.70 L521.68 124.20 L521.62 124.70 L521.55 125.20 L521.48 125.70 L521.41 126.20 L521.34 126.70 L521.27 127.20 L521.19 127.70 L521.11 128.20 L521.03 128.70 L520.95 129.20 L520.86 129.70 L520.77 130.20 L520.67 130.70 L520.57 131.20 L520.47 131.70 L520.36 132.20 L520.25 132.70 L520.14 133.20 L520.03 133.70 L519.91 134.20 L519.80 134.70 L519.68 135.20 L519.57 135.70 L519.45 136.20 L519.34 136.70 L519.22 137.20 L519.10 137.70 L518.97 138.20 L518.85 138.70 L518.71 139.20 L518.57 139.70 L518.43 140.20 L518.27 140.70 L518.11 141.20 L517.95 141.70 L517.77 142.20 L517.59 142.70 L517.41 143.20 L517.22 143.70 L517.02 144.20 L516.82 144.70 L516.62 145.20 L516.41 145.70 L516.20 146.20 L515.98 146.70 L515.77 147.20 L515.55 147.70 L515.33 148.20 L515.11 148.70 L514.89 149.20 L514.67 149.70 L514.45 150.20 L514.22 150.70 L514.00 151.20 L513.76 151.70 L513.52 152.20 L513.28 152.70 L513.02 153.20 L512.76 153.70 L512.49 154.20 L512.21 154.70 L511.91 155.20 L511.61 155.70 L511.29 156.20 L510.96 156.70 L510.62 157.20 L510.28 157.70 L509.92 158.20 L509.56 158.70 L509.19 159.20 L508.81 159.70 L508.43 160.20 L508.04 160.70 L507.65 161.20 L507.26 161.70 L506.86 162.20 L506.45 162.70 L506.04 163.20 L505.63 163.70 L505.21 164.20 L504.78 164.70 L504.35 165.20 L503.91 165.70 L503.48 166.20 L503.04 166.70 L502.60 167.20 L502.15 167.70 L501.71 168.20 L501.27 168.70 L500.83 169.20 L500.39 169.70 L499.96 170.20 L499.52 170.70 L499.08 171.20 L498.64 171.70 L498.19 172.20 L497.74 172.70 L497.29 173.20 L496.84 173.70 L496.37 174.20 L495.90 174.70 L495.43 175.20 L494.95 175.70 L494.47 176.20 L493.98 176.70 L493.50 177.20 L493.01 177.70 L492.53 178.20 L492.05 178.70 L491.58 179.20 L491.11 179.70 L490.65 180.20 L490.19 180.70 L489.74 181.20 L489.29 181.70 L488.85 182.20 L488.41 182.70 L487.97 183.20 L487.55 183.70 L487.12 184.20 L486.71 184.70 L486.31 185.20 L485.92 185.70 L485.53 186.20 L485.17 186.70 L484.81 187.20 L484.47 187.70 L484.14 188.20 L483.83 188.70 L483.53 189.20 L483.25 189.70 L482.99 190.20 L482.75 190.70 L482.53 191.20 L482.32 191.70 L482.13 192.20 L481.96 192.70 L481.81 193.20 L481.68 193.70 L481.57 194.20 L481.48 194.70 L481.42 195.20 L481.38 195.70 L481.38 196.20 L481.40 196.70 L481.45 197.20 L481.55 197.70 L481.68 198.20 L481.85 198.70 L482.05 199.20 L482.30 199.70 L482.57 200.20 L482.88 200.70 L483.22 201.20 L483.58 201.70 L483.97 202.20 L484.39 202.70 L484.82 203.20 L485.26 203.70 L485.72 204.20 L486.17 204.70 L486.62 205.20 L487.07 205.70 L487.52 206.20 L487.97 206.70 L488.42 207.20 L488.87 207.70 L489.32 208.20 L489.78 208.70 L490.24 209.20 L490.71 209.70 L491.17 210.20 L491.64 210.70 L492.11 211.20 L492.58 211.70 L493.05 212.20 L493.52 212.70 L493.98 213.20 L494.44 213.70 L494.89 214.20 L495.34 214.70 L495.79 215.20 L496.23 215.70 L496.67 216.20 L497.11 216.70 L497.54 217.20 L497.97 217.70 L498.39 218.20 L498.81 218.70 L499.23 219.20 L499.64 219.70 L500.04 220.20 L500.44 220.70 L500.83 221.20 L501.21 221.70 L501.58 222.20 L501.95 222.70 L502.30 223.20 L502.65 223.70 L503.00 224.20 L503.34 224.70 L503.67 225.20 L504.01 225.70 L504.35 226.20 L504.69 226.70 L505.03 227.20 L505.38 227.70 L505.73 228.20 L506.07 228.70 L506.42 229.20 L506.76 229.70 L507.09 230.20 L507.42 230.70 L507.74 231.20 L508.06 231.70 L508.37 232.20 L508.68 232.70 L508.98 233.20 L509.28 233.70 L509.57 234.20 L509.86 234.70 L510.14 235.20 L510.42 235.70 L510.70 236.20 L510.97 236.70 L511.23 237.20 L511.49 237.70 L511.75 238.20 L512.00 238.70 L512.25 239.20 L512.49 239.70 L512.73 240.20 L512.96 240.70 L513.19 241.20 L513.42 241.70 L513.64 242.20 L513.86 242.70 L514.07 243.20 L514.29 243.70 L514.49 244.20 L514.70 244.70 L514.90 245.20 L515.10 245.70 L515.29 246.20 L515.49 246.70 L515.67 247.20 L515.86 247.70 L516.04 248.20 L516.22 248.70 L516.40 249.20 L516.57 249.70 L516.74 250.20 L516.91 250.70 L517.08 251.20 L517.24 251.70 L517.40 252.20 L517.56 252.70 L517.72 253.20 L517.87 253.70 L518.03 254.20 L518.18 254.70 L518.33 255.20 L518.47 255.70 L518.62 256.20 L518.77 256.70 L518.91 257.20 L519.05 257.70 L519.19 258.20 L519.32 258.70 L519.45 259.20 L519.58 259.70 L519.71 260.20 L519.83 260.70 L519.94 261.20 L520.06 261.70 L520.16 262.20 L520.27 262.70 L520.37 263.20 L520.47 263.70 L520.56 264.20 L520.66 264.70 L520.75 265.20 L520.83 265.70 L520.92 266.20 L521.00 266.70 L521.08 267.20 L521.15 267.70 L521.23 268.20 L521.30 268.70 L521.36 269.20 L521.43 269.70 L521.49 270.20 L521.54 270.70 L521.60 271.20 L521.65 271.70 L521.70 272.20 L521.75 272.70 L521.79 273.20 L521.84 273.70 L521.88 274.20 L521.92 274.70 L521.96 275.20 L522.00 275.70 L522.04 276.20 L522.08 276.70 L522.12 277.20 L522.15 277.70 L522.19 278.20 L522.23 278.70 L522.27 279.20 L522.30 279.70 L522.34 280.20 L522.38 280.70 L522.42 281.20 L522.46 281.70 L522.49 282.20 L522.53 282.70 L522.57 283.20 L522.61 283.70 L522.64 284.20 L522.68 284.70 L522.72 285.20 L522.75 285.70 L522.79 286.20 L522.82 286.70 L522.85 287.20 L522.89 287.70 L522.92 288.20 L522.95 288.70 L522.98 289.20 L523.00 289.70 L523.03 290.20 L523.06 290.70 L523.08 291.20 L523.10 291.70 L523.13 292.20 L523.15 292.70 L523.17 293.20 L523.19 293.70 L523.21 294.20 L523.23 294.70 L523.25 295.20 L523.27 295.70 L523.29 296.20 L523.31 296.70 L523.33 297.20 L523.34 297.70 L523.36 298.20 L523.38 298.70 L523.40 299.20 L523.42 299.70 L523.43 300.20 L523.45 300.70 L523.47 301.20 L523.49 301.70 L523.51 302.20 L523.53 302.70 L523.54 303.20 L523.56 303.70 L523.58 304.20 L523.59 304.70 L523.61 305.20 L523.62 305.70 L523.64 306.20 L523.65 306.70 L523.66 307.20 L523.66 307.70 L523.67 308.20 L523.68 308.70 L523.68 309.20 L523.69 309.70 L523.69 310.20 L523.70 310.70 L523.70 311.20 L523.71 311.70 L523.71 312.20 L523.71 312.70 L523.71 313.20 L523.72 313.70 L523.72 314.20 L523.72 314.70 L523.72 315.20 L523.72 315.70 L523.72 316.20 L523.72 316.20 L523.73 315.70 L523.73 315.20 L523.73 314.70 L523.73 314.20 L523.73 313.70 L523.74 313.20 L523.74 312.70 L523.74 312.20 L523.74 311.70 L523.75 311.20 L523.75 310.70 L523.76 310.20 L523.76 309.70 L523.77 309.20 L523.77 308.70 L523.78 308.20 L523.79 307.70 L523.79 307.20 L523.80 306.70 L523.81 306.20 L523.83 305.70 L523.84 305.20 L523.86 304.70 L523.87 304.20 L523.89 303.70 L523.91 303.20 L523.92 302.70 L523.94 302.20 L523.96 301.70 L523.98 301.20 L524.00 300.70 L524.02 300.20 L524.03 299.70 L524.05 299.20 L524.07 298.70 L524.09 298.20 L524.11 297.70 L524.12 297.20 L524.14 296.70 L524.16 296.20 L524.18 295.70 L524.20 295.20 L524.22 294.70 L524.24 294.20 L524.26 293.70 L524.28 293.20 L524.30 292.70 L524.32 292.20 L524.35 291.70 L524.37 291.20 L524.39 290.70 L524.42 290.20 L524.45 289.70 L524.47 289.20 L524.50 288.70 L524.53 288.20 L524.56 287.70 L524.60 287.20 L524.63 286.70 L524.66 286.20 L524.70 285.70 L524.73 285.20 L524.77 284.70 L524.81 284.20 L524.84 283.70 L524.88 283.20 L524.92 282.70 L524.96 282.20 L524.99 281.70 L525.03 281.20 L525.07 280.70 L525.11 280.20 L525.15 279.70 L525.18 279.20 L525.22 278.70 L525.26 278.20 L525.30 277.70 L525.33 277.20 L525.37 276.70 L525.41 276.20 L525.45 275.70 L525.49 275.20 L525.53 274.70 L525.57 274.20 L525.61 273.70 L525.66 273.20 L525.70 272.70 L525.75 272.20 L525.80 271.70 L525.85 271.20 L525.91 270.70 L525.96 270.20 L526.02 269.70 L526.09 269.20 L526.15 268.70 L526.22 268.20 L526.30 267.70 L526.37 267.20 L526.45 266.70 L526.53 266.20 L526.62 265.70 L526.70 265.20 L526.79 264.70 L526.89 264.20 L526.98 263.70 L527.08 263.20 L527.18 262.70 L527.29 262.20 L527.39 261.70 L527.51 261.20 L527.62 260.70 L527.74 260.20 L527.87 259.70 L528.00 259.20 L528.13 258.70 L528.26 258.20 L528.40 257.70 L528.54 257.20 L528.68 256.70 L528.83 256.20 L528.98 255.70 L529.12 255.20 L529.27 254.70 L529.42 254.20 L529.58 253.70 L529.73 253.20 L529.89 252.70 L530.05 252.20 L530.21 251.70 L530.37 251.20 L530.54 250.70 L530.71 250.20 L530.88 249.70 L531.05 249.20 L531.23 248.70 L531.41 248.20 L531.59 247.70 L531.78 247.20 L531.96 246.70 L532.16 246.20 L532.35 245.70 L532.55 245.20 L532.75 244.70 L532.96 244.20 L533.16 243.70 L533.38 243.20 L533.59 242.70 L533.81 242.20 L534.03 241.70 L534.26 241.20 L534.49 240.70 L534.72 240.20 L534.96 239.70 L535.20 239.20 L535.45 238.70 L535.70 238.20 L535.96 237.70 L536.22 237.20 L536.48 236.70 L536.75 236.20 L537.03 235.70 L537.31 235.20 L537.59 234.70 L537.88 234.20 L538.17 233.70 L538.47 233.20 L538.77 232.70 L539.08 232.20 L539.39 231.70 L539.71 231.20 L540.03 230.70 L540.36 230.20 L540.69 229.70 L541.03 229.20 L541.38 228.70 L541.72 228.20 L542.07 227.70 L542.42 227.20 L542.76 226.70 L543.10 226.20 L543.44 225.70 L543.78 225.20 L544.11 224.70 L544.45 224.20 L544.80 223.70 L545.15 223.20 L545.50 222.70 L545.87 222.20 L546.24 221.70 L546.62 221.20 L547.01 220.70 L547.41 220.20 L547.81 219.70 L548.22 219.20 L548.64 218.70 L549.06 218.20 L549.48 217.70 L549.91 217.20 L550.34 216.70 L550.78 216.20 L551.22 215.70 L551.66 215.20 L552.11 214.70 L552.56 214.20 L553.01 213.70 L553.47 213.20 L553.93 212.70 L554.40 212.20 L554.87 211.70 L555.34 211.20 L555.81 210.70 L556.28 210.20 L556.74 209.70 L557.21 209.20 L557.67 208.70 L558.13 208.20 L558.58 207.70 L559.03 207.20 L559.48 206.70 L559.93 206.20 L560.38 205.70 L560.83 205.20 L561.28 204.70 L561.73 204.20 L562.19 203.70 L562.63 203.20 L563.06 202.70 L563.48 202.20 L563.87 201.70 L564.23 201.20 L564.57 200.70 L564.88 200.20 L565.15 199.70 L565.40 199.20 L565.60 198.70 L565.77 198.20 L565.90 197.70 L566.00 197.20 L566.05 196.70 L566.07 196.20 L566.07 195.70 L566.03 195.20 L565.97 194.70 L565.88 194.20 L565.77 193.70 L565.64 193.20 L565.49 192.70 L565.32 192.20 L565.13 191.70 L564.92 191.20 L564.70 190.70 L564.46 190.20 L564.20 189.70 L563.92 189.20 L563.62 188.70 L563.31 188.20 L562.98 187.70 L562.64 187.20 L562.28 186.70 L561.92 186.20 L561.53 185.70 L561.14 185.20 L560.74 184.70 L560.33 184.20 L559.90 183.70 L559.48 183.20 L559.04 182.70 L558.60 182.20 L558.16 181.70 L557.71 181.20 L557.26 180.70 L556.80 180.20 L556.34 179.70 L555.87 179.20 L555.40 178.70 L554.92 178.20 L554.44 177.70 L553.95 177.20 L553.47 176.70 L552.98 176.20 L552.50 175.70 L552.02 175.20 L551.55 174.70 L551.08 174.20 L550.61 173.70 L550.16 173.20 L549.71 172.70 L549.26 172.20 L548.81 171.70 L548.37 171.20 L547.93 170.70 L547.49 170.20 L547.06 169.70 L546.62 169.20 L546.18 168.70 L545.74 168.20 L545.30 167.70 L544.85 167.20 L544.41 166.70 L543.97 166.20 L543.54 165.70 L543.10 165.20 L542.67 164.70 L542.24 164.20 L541.82 163.70 L541.41 163.20 L541.00 162.70 L540.59 162.20 L540.19 161.70 L539.80 161.20 L539.41 160.70 L539.02 160.20 L538.64 159.70 L538.26 159.20 L537.89 158.70 L537.53 158.20 L537.17 157.70 L536.83 157.20 L536.49 156.70 L536.16 156.20 L535.84 155.70 L535.54 155.20 L535.24 154.70 L534.96 154.20 L534.69 153.70 L534.43 153.20 L534.17 152.70 L533.93 152.20 L533.69 151.70 L533.45 151.20 L533.23 150.70 L533.00 150.20 L532.78 149.70 L532.56 149.20 L532.34 148.70 L532.12 148.20 L531.90 147.70 L531.68 147.20 L531.47 146.70 L531.25 146.20 L531.04 145.70 L530.83 145.20 L530.63 144.70 L530.43 144.20 L530.23 143.70 L530.04 143.20 L529.86 142.70 L529.68 142.20 L529.50 141.70 L529.34 141.20 L529.18 140.70 L529.02 140.20 L528.88 139.70 L528.74 139.20 L528.60 138.70 L528.48 138.20 L528.35 137.70 L528.23 137.20 L528.11 136.70 L528.00 136.20 L527.88 135.70 L527.77 135.20 L527.65 134.70 L527.54 134.20 L527.42 133.70 L527.31 133.20 L527.20 132.70 L527.09 132.20 L526.98 131.70 L526.88 131.20 L526.78 130.70 L526.68 130.20 L526.59 129.70 L526.50 129.20 L526.42 128.70 L526.34 128.20 L526.26 127.70 L526.18 127.20 L526.11 126.70 L526.04 126.20 L525.97 125.70 L525.90 125.20 L525.83 124.70 L525.77 124.20 L525.71 123.70 L525.65 123.20 L525.59 122.70 L525.53 122.20 L525.48 121.70 L525.42 121.20 L525.37 120.70 L525.31 120.20 L525.26 119.70 L525.21 119.20 L525.17 118.70 L525.12 118.20 L525.07 117.70 L525.03 117.20 L524.99 116.70 L524.95 116.20 L524.91 115.70 L524.87 115.20 L524.83 114.70 L524.80 114.20 L524.76 113.70 L524.73 113.20 L524.69 112.70 L524.66 112.20 L524.63 111.70 L524.60 111.20 L524.57 110.70 L524.54 110.20 L524.52 109.70 L524.49 109.20 L524.46 108.70 L524.44 108.20 L524.41 107.70 L524.39 107.20 L524.37 106.70 L524.35 106.20 L524.33 105.70 L524.30 105.20 L524.28 104.70 L524.27 104.20 L524.25 103.70 L524.23 103.20 L524.21 102.70 L524.19 102.20 L524.18 101.70 L524.16 101.20 L524.15 100.70 L524.13 100.20 L524.12 99.70 L524.11 99.20 L524.09 98.70 L524.08 98.20 L524.07 97.70 L524.05 97.20 L524.04 96.70 L524.03 96.20 L524.02 95.70 L524.01 95.20 L524.00 94.70 L523.99 94.20 L523.98 93.70 L523.97 93.20 L523.96 92.70 L523.95 92.20 L523.95 91.70 L523.94 91.20 L523.93 90.70 L523.93 90.20 L523.92 89.70 L523.92 89.20 L523.92 88.70 L523.91 88.20 L523.91 87.70 L523.91 87.20 L523.90 86.70 L523.90 86.20 L523.90 85.70 L523.90 85.20 L523.89 84.70 L523.89 84.20 L523.89 83.70 L523.89 83.20 L523.88 82.70 L523.88 82.20 L523.88 81.70 L523.88 81.20 L523.87 80.70 L523.87 80.20 L523.87 79.70 L523.87 79.20 L523.87 78.70 L523.86 78.20 L523.86 77.70 L523.86 77.20 L523.86 76.70 L523.86 76.20 L523.86 75.70 L523.85 75.20 L523.85 74.70 L523.85 74.20 L523.85 73.70 L523.85 73.20 L523.85 72.70 L523.84 72.20 L523.84 71.70 L523.84 71.20 L523.84 70.70 L523.84 70.20 L523.84 69.70 L523.84 69.20 L523.83 68.70 L523.83 68.20 L523.83 67.70 L523.83 67.20 L523.83 66.70 L523.83 66.20 L523.83 65.70 L523.83 65.20 L523.83 64.70 L523.82 64.20 L523.82 63.70 L523.82 63.20 L523.82 62.70 L523.82 62.20 L523.82 61.70 L523.82 61.20 L523.82 60.70 L523.82 60.20 L523.81 59.70 L523.81 59.20 L523.81 58.70 L523.81 58.20 L523.81 57.70 L523.81 57.20 L523.81 56.70 L523.81 56.20 L523.81 55.70 L523.80 55.20 L523.80 54.70 L523.80 54.20 L523.80 53.70 L523.80 53.20 L523.80 52.70 L523.80 52.20 L523.80 51.70 L523.79 51.20 L523.79 50.70 L523.79 50.20 L523.79 49.70 L523.79 49.20 L523.79 48.70 L523.79 48.20 L523.78 47.70 L523.78 47.20 L523.78 46.70 L523.78 46.20 L523.78 45.70 L523.78 45.20 L523.77 44.70 L523.77 44.20 L523.77 43.70 L523.77 43.20 L523.77 42.70 L523.77 42.20 L523.76 41.70 L523.76 41.20 L523.76 40.70 L523.76 40.20 L523.76 39.70 L523.75 39.20 L523.75 38.70 L523.75 38.20 L523.75 37.70 L523.75 37.20 L523.75 36.70 L523.74 36.20 L523.74 35.70 L523.74 35.20 L523.74 34.70 L523.74 34.20 L523.73 33.70 L523.73 33.20 L523.73 32.70 L523.73 32.20 L523.73 31.70 L523.72 31.20Z" fill="#a2c865" stroke="#444444" stroke-width="1.25" stroke-linejoin="round"/>
<path d="M630.44 31.20 L630.44 31.70 L630.44 32.20 L630.44 32.70 L630.44 33.20 L630.44 33.70 L630.44 34.20 L630.43 34.70 L630.43 35.20 L630.43 35.70 L630.43 36.20 L630.43 36.70 L630.42 37.20 L630.42 37.70 L630.42 38.20 L630.41 38.70 L630.41 39.20 L630.41 39.70 L630.40 40.20 L630.40 40.70 L630.40 41.20 L630.39 41.70 L630.39 42.20 L630.38 42.70 L630.37 43.20 L630.37 43.70 L630.36 44.20 L630.35 44.70 L630.34 45.20 L630.33 45.70 L630.32 46.20 L630.30 46.70 L630.29 47.20 L630.28 47.70 L630.26 48.20 L630.25 48.70 L630.23 49.20 L630.21 49.70 L630.20 50.20 L630.18 50.70 L630.16 51.20 L630.14 51.70 L630.13 52.20 L630.11 52.70 L630.09 53.20 L630.06 53.70 L630.04 54.20 L630.02 54.70 L629.99 55.20 L629.96 55.70 L629.94 56.20 L629.91 56.70 L629.88 57.20 L629.85 57.70 L629.82 58.20 L629.79 58.70 L629.76 59.20 L629.73 59.70 L629.70 60.20 L629.66 60.70 L629.63 61.20 L629.60 61.70 L629.57 62.20 L629.53 62.70 L629.50 63.20 L629.47 63.70 L629.44 64.20 L629.40 64.70 L629.37 65.20 L629.33 65.70 L629.30 66.20 L629.26 66.70 L629.23 67.20 L629.19 67.70 L629.15 68.20 L629.12 68.70 L629.08 69.20 L629.04 69.70 L629.00 70.20 L628.96 70.70 L628.91 71.20 L628.87 71.70 L628.83 72.20 L628.78 72.70 L628.73 73.20 L628.69 73.70 L628.64 74.20 L628.59 74.70 L628.53 75.20 L628.48 75.70 L628.43 76.20 L628.37 76.70 L628.31 77.20 L628.25 77.70 L628.19 78.20 L628.13 78.70 L628.07 79.20 L628.00 79.70 L627.94 80.20 L627.87 80.70 L627.80 81.20 L627.73 81.70 L627.67 82.20 L627.59 82.70 L627.52 83.20 L627.45 83.70 L627.38 84.20 L627.30 84.70 L627.22 85.20 L627.14 85.70 L627.06 86.20 L626.98 86.70 L626.90 87.20 L626.81 87.70 L626.72 88.20 L626.63 88.70 L626.54 89.20 L626.45 89.70 L626.35 90.20 L626.25 90.70 L626.15 91.20 L626.05 91.70 L625.95 92.20 L625.84 92.70 L625.73 93.20 L625.62 93.70 L625.51 94.20 L625.39 94.70 L625.27 95.20 L625.15 95.70 L625.02 96.20 L624.89 96.70 L624.76 97.20 L624.62 97.70 L624.47 98.20 L624.32 98.70 L624.17 99.20 L624.00 99.70 L623.83 100.20 L623.65 100.70 L623.46 101.20 L623.26 101.70 L623.05 102.20 L622.84 102.70 L622.61 103.20 L622.38 103.70 L622.14 104.20 L621.89 104.70 L621.64 105.20 L621.38 105.70 L621.11 106.20 L620.84 106.70 L620.56 107.20 L620.27 107.70 L619.98 108.20 L619.67 108.70 L619.36 109.20 L619.04 109.70 L618.70 110.20 L618.36 110.70 L618.01 111.20 L617.65 111.70 L617.29 112.20 L616.92 112.70 L616.55 113.20 L616.18 113.70 L615.80 114.20 L615.42 114.70 L615.05 115.20 L614.68 115.70 L614.31 116.20 L613.94 116.70 L613.58 117.20 L613.22 117.70 L612.86 118.20 L612.51 118.70 L612.15 119.20 L611.80 119.70 L611.45 120.20 L611.10 120.70 L610.76 121.20 L610.41 121.70 L610.06 122.20 L609.72 122.70 L609.37 123.20 L609.03 123.70 L608.68 124.20 L608.34 124.70 L608.00 125.20 L607.66 125.70 L607.32 126.20 L606.98 126.70 L606.65 127.20 L606.31 127.70 L605.98 128.20 L605.65 128.70 L605.32 129.20 L605.00 129.70 L604.67 130.20 L604.34 130.70 L604.00 131.20 L603.67 131.70 L603.33 132.20 L602.99 132.70 L602.65 133.20 L602.30 133.70 L601.94 134.20 L601.58 134.70 L601.21 135.20 L600.84 135.70 L600.46 136.20 L600.07 136.70 L599.68 137.20 L599.28 137.70 L598.88 138.20 L598.48 138.70 L598.07 139.20 L597.67 139.70 L597.26 140.20 L596.85 140.70 L596.44 141.20 L596.03 141.70 L595.62 142.20 L595.21 142.70 L594.81 143.20 L594.40 143.70 L594.00 144.20 L593.60 144.70 L593.20 145.20 L592.81 145.70 L592.42 146.20 L592.05 146.70 L591.68 147.20 L591.32 147.70 L590.98 148.20 L590.64 148.70 L590.33 149.20 L590.03 149.70 L589.74 150.20 L589.47 150.70 L589.21 151.20 L588.98 151.70 L588.76 152.20 L588.58 152.70 L588.42 153.20 L588.30 153.70 L588.21 154.20 L588.16 154.70 L588.15 155.20 L588.17 155.70 L588.22 156.20 L588.30 156.70 L588.40 157.20 L588.53 157.70 L588.68 158.20 L588.86 158.70 L589.07 159.20 L589.30 159.70 L589.57 160.20 L589.86 160.70 L590.18 161.20 L590.53 161.70 L590.89 162.20 L591.27 162.70 L591.65 163.20 L592.04 163.70 L592.44 164.20 L592.83 164.70 L593.22 165.20 L593.61 165.70 L594.00 166.20 L594.38 166.70 L594.77 167.20 L595.17 167.70 L595.57 168.20 L595.97 168.70 L596.38 169.20 L596.80 169.70 L597.23 170.20 L597.66 170.70 L598.11 171.20 L598.56 171.70 L599.02 172.20 L599.50 172.70 L599.98 173.20 L600.47 173.70 L600.97 174.20 L601.48 174.70 L601.99 175.20 L602.51 175.70 L603.03 176.20 L603.55 176.70 L604.08 177.20 L604.61 177.70 L605.14 178.20 L605.68 178.70 L606.22 179.20 L606.77 179.70 L607.31 180.20 L607.86 180.70 L608.41 181.20 L608.96 181.70 L609.51 182.20 L610.05 182.70 L610.57 183.20 L611.09 183.70 L611.60 184.20 L612.09 184.70 L612.57 185.20 L613.04 185.70 L613.50 186.20 L613.95 186.70 L614.39 187.20 L614.82 187.70 L615.24 188.20 L615.66 188.70 L616.06 189.20 L616.46 189.70 L616.84 190.20 L617.21 190.70 L617.57 191.20 L617.92 191.70 L618.25 192.20 L618.57 192.70 L618.88 193.20 L619.18 193.70 L619.46 194.20 L619.74 194.70 L620.01 195.20 L620.26 195.70 L620.51 196.20 L620.76 196.70 L620.99 197.20 L621.22 197.70 L621.45 198.20 L621.67 198.70 L621.88 199.20 L622.09 199.70 L622.29 200.20 L622.49 200.70 L622.69 201.20 L622.88 201.70 L623.07 202.20 L623.25 202.70 L623.43 203.20 L623.61 203.70 L623.78 204.20 L623.96 204.70 L624.12 205.20 L624.28 205.70 L624.44 206.20 L624.60 206.70 L624.74 207.20 L624.89 207.70 L625.03 208.20 L625.16 208.70 L625.29 209.20 L625.42 209.70 L625.54 210.20 L625.65 210.70 L625.77 211.20 L625.88 211.70 L625.98 212.20 L626.09 212.70 L626.19 213.20 L626.29 213.70 L626.38 214.20 L626.48 214.70 L626.57 215.20 L626.67 215.70 L626.76 216.20 L626.85 216.70 L626.94 217.20 L627.03 217.70 L627.12 218.20 L627.21 218.70 L627.29 219.20 L627.38 219.70 L627.46 220.20 L627.55 220.70 L627.63 221.20 L627.71 221.70 L627.79 222.20 L627.87 222.70 L627.95 223.20 L628.02 223.70 L628.09 224.20 L628.16 224.70 L628.23 225.20 L628.30 225.70 L628.37 226.20 L628.43 226.70 L628.49 227.20 L628.55 227.70 L628.61 228.20 L628.67 228.70 L628.73 229.20 L628.78 229.70 L628.84 230.20 L628.89 230.70 L628.94 231.20 L628.99 231.70 L629.04 232.20 L629.09 232.70 L629.14 233.20 L629.18 233.70 L629.23 234.20 L629.27 234.70 L629.32 235.20 L629.36 235.70 L629.40 236.20 L629.44 236.70 L629.48 237.20 L629.52 237.70 L629.56 238.20 L629.59 238.70 L629.62 239.20 L629.65 239.70 L629.68 240.20 L629.71 240.70 L629.73 241.20 L629.76 241.70 L629.78 242.20 L629.80 242.70 L629.82 243.20 L629.84 243.70 L629.86 244.20 L629.88 244.70 L629.90 245.20 L629.92 245.70 L629.93 246.20 L629.95 246.70 L629.97 247.20 L629.98 247.70 L630.00 248.20 L630.02 248.70 L630.03 249.20 L630.05 249.70 L630.06 250.20 L630.07 250.70 L630.09 251.20 L630.10 251.70 L630.11 252.20 L630.12 252.70 L630.14 253.20 L630.15 253.70 L630.16 254.20 L630.17 254.70 L630.18 255.20 L630.19 255.70 L630.19 256.20 L630.20 256.70 L630.21 257.20 L630.22 257.70 L630.22 258.20 L630.23 258.70 L630.23 259.20 L630.24 259.70 L630.24 260.20 L630.25 260.70 L630.25 261.20 L630.25 261.70 L630.26 262.20 L630.26 262.70 L630.26 263.20 L630.27 263.70 L630.27 264.20 L630.27 264.70 L630.27 265.20 L630.28 265.70 L630.28 266.20 L630.28 266.70 L630.29 267.20 L630.29 267.70 L630.29 268.20 L630.29 268.70 L630.30 269.20 L630.30 269.70 L630.30 270.20 L630.30 270.70 L630.30 271.20 L630.31 271.70 L630.31 272.20 L630.31 272.70 L630.31 273.20 L630.31 273.70 L630.32 274.20 L630.32 274.70 L630.32 275.20 L630.32 275.70 L630.32 276.20 L630.33 276.70 L630.33 277.20 L630.33 277.70 L630.33 278.20 L630.33 278.70 L630.33 279.20 L630.34 279.70 L630.34 280.20 L630.34 280.70 L630.34 281.20 L630.34 281.70 L630.34 282.20 L630.34 282.70 L630.35 283.20 L630.35 283.70 L630.35 284.20 L630.35 284.70 L630.35 285.20 L630.35 285.70 L630.35 286.20 L630.35 286.70 L630.36 287.20 L630.36 287.70 L630.36 288.20 L630.36 288.70 L630.36 289.20 L630.36 289.70 L630.36 290.20 L630.37 290.70 L630.37 291.20 L630.37 291.70 L630.37 292.20 L630.37 292.70 L630.37 293.20 L630.37 293.70 L630.37 294.20 L630.38 294.70 L630.38 295.20 L630.38 295.70 L630.38 296.20 L630.38 296.70 L630.38 297.20 L630.38 297.70 L630.39 298.20 L630.39 298.70 L630.39 299.20 L630.39 299.70 L630.39 300.20 L630.39 300.70 L630.40 301.20 L630.40 301.70 L630.40 302.20 L630.40 302.70 L630.40 303.20 L630.40 303.70 L630.41 304.20 L630.41 304.70 L630.41 305.20 L630.41 305.70 L630.41 306.20 L630.41 306.70 L630.41 307.20 L630.42 307.70 L630.42 308.20 L630.42 308.70 L630.42 309.20 L630.42 309.70 L630.42 310.20 L630.42 310.70 L630.43 311.20 L630.43 311.70 L630.43 312.20 L630.43 312.70 L630.43 313.20 L630.43 313.70 L630.43 314.20 L630.44 314.70 L630.44 315.20 L630.44 315.70 L630.44 316.20 L630.44 316.20 L630.45 315.70 L630.45 315.20 L630.45 314.70 L630.45 314.20 L630.45 313.70 L630.45 313.20 L630.45 312.70 L630.45 312.20 L630.46 311.70 L630.46 311.20 L630.46 310.70 L630.46 310.20 L630.46 309.70 L630.46 309.20 L630.46 308.70 L630.47 308.20 L630.47 307.70 L630.47 307.20 L630.47 306.70 L630.47 306.20 L630.47 305.70 L630.48 305.20 L630.48 304.70 L630.48 304.20 L630.48 303.70 L630.48 303.20 L630.48 302.70 L630.48 302.20 L630.49 301.70 L630.49 301.20 L630.49 300.70 L630.49 300.20 L630.49 299.70 L630.49 299.20 L630.50 298.70 L630.50 298.20 L630.50 297.70 L630.50 297.20 L630.50 296.70 L630.50 296.20 L630.50 295.70 L630.51 295.20 L630.51 294.70 L630.51 294.20 L630.51 293.70 L630.51 293.20 L630.51 292.70 L630.51 292.20 L630.52 291.70 L630.52 291.20 L630.52 290.70 L630.52 290.20 L630.52 289.70 L630.52 289.20 L630.52 288.70 L630.52 288.20 L630.53 287.70 L630.53 287.20 L630.53 286.70 L630.53 286.20 L630.53 285.70 L630.53 285.20 L630.53 284.70 L630.54 284.20 L630.54 283.70 L630.54 283.20 L630.54 282.70 L630.54 282.20 L630.54 281.70 L630.54 281.20 L630.55 280.70 L630.55 280.20 L630.55 279.70 L630.55 279.20 L630.55 278.70 L630.55 278.20 L630.55 277.70 L630.56 277.20 L630.56 276.70 L630.56 276.20 L630.56 275.70 L630.56 275.20 L630.56 274.70 L630.57 274.20 L630.57 273.70 L630.57 273.20 L630.57 272.70 L630.57 272.20 L630.58 271.70 L630.58 271.20 L630.58 270.70 L630.58 270.20 L630.59 269.70 L630.59 269.20 L630.59 268.70 L630.59 268.20 L630.60 267.70 L630.60 267.20 L630.60 266.70 L630.60 266.20 L630.61 265.70 L630.61 265.20 L630.61 264.70 L630.61 264.20 L630.62 263.70 L630.62 263.20 L630.62 262.70 L630.63 262.20 L630.63 261.70 L630.63 261.20 L630.64 260.70 L630.64 260.20 L630.65 259.70 L630.65 259.20 L630.66 258.70 L630.66 258.20 L630.67 257.70 L630.67 257.20 L630.68 256.70 L630.69 256.20 L630.70 255.70 L630.71 255.20 L630.72 254.70 L630.73 254.20 L630.74 253.70 L630.75 253.20 L630.76 252.70 L630.77 252.20 L630.78 251.70 L630.80 251.20 L630.81 250.70 L630.82 250.20 L630.84 249.70 L630.85 249.20 L630.87 248.70 L630.88 248.20 L630.90 247.70 L630.92 247.20 L630.93 246.70 L630.95 246.20 L630.97 245.70 L630.99 245.20 L631.00 244.70 L631.02 244.20 L631.04 243.70 L631.06 243.20 L631.08 242.70 L631.10 242.20 L631.13 241.70 L631.15 241.20 L631.17 240.70 L631.20 240.20 L631.23 239.70 L631.26 239.20 L631.29 238.70 L631.33 238.20 L631.36 237.70 L631.40 237.20 L631.44 236.70 L631.48 236.20 L631.52 235.70 L631.57 235.20 L631.61 234.70 L631.65 234.20 L631.70 233.70 L631.75 233.20 L631.79 232.70 L631.84 232.20 L631.89 231.70 L631.94 231.20 L631.99 230.70 L632.05 230.20 L632.10 229.70 L632.16 229.20 L632.21 228.70 L632.27 228.20 L632.33 227.70 L632.39 227.20 L632.45 226.70 L632.52 226.20 L632.58 225.70 L632.65 225.20 L632.72 224.70 L632.79 224.20 L632.86 223.70 L632.94 223.20 L633.01 222.70 L633.09 222.20 L633.17 221.70 L633.25 221.20 L633.33 220.70 L633.42 220.20 L633.50 219.70 L633.59 219.20 L633.68 218.70 L633.77 218.20 L633.85 217.70 L633.94 217.20 L634.03 216.70 L634.13 216.20 L634.22 215.70 L634.31 215.20 L634.40 214.70 L634.50 214.20 L634.60 213.70 L634.69 213.20 L634.80 212.70 L634.90 212.20 L635.01 211.70 L635.12 211.20 L635.23 210.70 L635.35 210.20 L635.47 209.70 L635.59 209.20 L635.72 208.70 L635.86 208.20 L635.99 207.70 L636.14 207.20 L636.29 206.70 L636.44 206.20 L636.60 205.70 L636.76 205.20 L636.93 204.70 L637.10 204.20 L637.27 203.70 L637.45 203.20 L637.63 202.70 L637.82 202.20 L638.01 201.70 L638.20 201.20 L638.39 200.70 L638.59 200.20 L638.80 199.70 L639.00 199.20 L639.22 198.70 L639.44 198.20 L639.66 197.70 L639.89 197.20 L640.13 196.70 L640.37 196.20 L640.62 195.70 L640.88 195.20 L641.14 194.70 L641.42 194.20 L641.71 193.70 L642.00 193.20 L642.31 192.70 L642.63 192.20 L642.97 191.70 L643.31 191.20 L643.67 190.70 L644.05 190.20 L644.43 189.70 L644.82 189.20 L645.23 188.70 L645.64 188.20 L646.06 187.70 L646.49 187.20 L646.93 186.70 L647.38 186.20 L647.84 185.70 L648.31 185.20 L648.79 184.70 L649.29 184.20 L649.79 183.70 L650.31 183.20 L650.84 182.70 L651.38 182.20 L651.92 181.70 L652.47 181.20 L653.02 180.70 L653.57 180.20 L654.12 179.70 L654.66 179.20 L655.20 178.70 L655.74 178.20 L656.27 177.70 L656.80 177.20 L657.33 176.70 L657.85 176.20 L658.38 175.70 L658.89 175.20 L659.40 174.70 L659.91 174.20 L660.41 173.70 L660.90 173.20 L661.39 172.70 L661.86 172.20 L662.32 171.70 L662.78 171.20 L663.22 170.70 L663.66 170.20 L664.08 169.70 L664.50 169.20 L664.91 168.70 L665.32 168.20 L665.72 167.70 L666.11 167.20 L666.50 166.70 L666.89 166.20 L667.28 165.70 L667.66 165.20 L668.06 164.70 L668.45 164.20 L668.84 163.70 L669.23 163.20 L669.62 162.70 L669.99 162.20 L670.36 161.70 L670.70 161.20 L671.02 160.70 L671.32 160.20 L671.58 159.70 L671.82 159.20 L672.02 158.70 L672.20 158.20 L672.35 157.70 L672.48 157.20 L672.59 156.70 L672.66 156.20 L672.72 155.70 L672.74 155.20 L672.72 154.70 L672.67 154.20 L672.59 153.70 L672.46 153.20 L672.31 152.70 L672.12 152.20 L671.91 151.70 L671.67 151.20 L671.42 150.70 L671.15 150.20 L670.86 149.70 L670.56 149.20 L670.24 148.70 L669.91 148.20 L669.56 147.70 L669.21 147.20 L668.84 146.70 L668.46 146.20 L668.07 145.70 L667.68 145.20 L667.28 144.70 L666.88 144.20 L666.48 143.70 L666.08 143.20 L665.67 142.70 L665.26 142.20 L664.86 141.70 L664.45 141.20 L664.04 140.70 L663.63 140.20 L663.22 139.70 L662.81 139.20 L662.40 138.70 L662.00 138.20 L661.60 137.70 L661.20 137.20 L660.81 136.70 L660.43 136.20 L660.05 135.70 L659.67 135.20 L659.30 134.70 L658.94 134.20 L658.59 133.70 L658.24 133.20 L657.89 132.70 L657.55 132.20 L657.21 131.70 L656.88 131.20 L656.55 130.70 L656.22 130.20 L655.89 129.70 L655.56 129.20 L655.23 128.70 L654.90 128.20 L654.57 127.70 L654.24 127.20 L653.90 126.70 L653.56 126.20 L653.22 125.70 L652.88 125.20 L652.54 124.70 L652.20 124.20 L651.86 123.70 L651.51 123.20 L651.17 122.70 L650.82 122.20 L650.47 121.70 L650.13 121.20 L649.78 120.70 L649.43 120.20 L649.08 119.70 L648.73 119.20 L648.38 118.70 L648.02 118.20 L647.67 117.70 L647.31 117.20 L646.94 116.70 L646.58 116.20 L646.21 115.70 L645.83 115.20 L645.46 114.70 L645.08 114.20 L644.71 113.70 L644.33 113.20 L643.96 112.70 L643.59 112.20 L643.23 111.70 L642.87 111.20 L642.52 110.70 L642.18 110.20 L641.85 109.70 L641.52 109.20 L641.21 108.70 L640.91 108.20 L640.61 107.70 L640.32 107.20 L640.04 106.70 L639.77 106.20 L639.50 105.70 L639.24 105.20 L638.99 104.70 L638.74 104.20 L638.50 103.70 L638.27 103.20 L638.04 102.70 L637.83 102.20 L637.62 101.70 L637.42 101.20 L637.24 100.70 L637.05 100.20 L636.88 99.70 L636.72 99.20 L636.56 98.70 L636.41 98.20 L636.26 97.70 L636.12 97.20 L635.99 96.70 L635.86 96.20 L635.73 95.70 L635.61 95.20 L635.49 94.70 L635.37 94.20 L635.26 93.70 L635.15 93.20 L635.04 92.70 L634.94 92.20 L634.83 91.70 L634.73 91.20 L634.63 90.70 L634.53 90.20 L634.44 89.70 L634.34 89.20 L634.25 88.70 L634.16 88.20 L634.07 87.70 L633.99 87.20 L633.90 86.70 L633.82 86.20 L633.74 85.70 L633.66 85.20 L633.58 84.70 L633.51 84.20 L633.43 83.70 L633.36 83.20 L633.29 82.70 L633.22 82.20 L633.15 81.70 L633.08 81.20 L633.01 80.70 L632.95 80.20 L632.88 79.70 L632.82 79.20 L632.75 78.70 L632.69 78.20 L632.63 77.70 L632.57 77.20 L632.51 76.70 L632.46 76.20 L632.40 75.70 L632.35 75.20 L632.30 74.70 L632.25 74.20 L632.20 73.70 L632.15 73.20 L632.10 72.70 L632.06 72.20 L632.01 71.70 L631.97 71.20 L631.93 70.70 L631.89 70.20 L631.85 69.70 L631.81 69.20 L631.77 68.70 L631.73 68.20 L631.69 67.70 L631.66 67.20 L631.62 66.70 L631.58 66.20 L631.55 65.70 L631.52 65.20 L631.48 64.70 L631.45 64.20 L631.41 63.70 L631.38 63.20 L631.35 62.70 L631.32 62.20 L631.28 61.70 L631.25 61.20 L631.22 60.70 L631.19 60.20 L631.16 59.70 L631.12 59.20 L631.09 58.70 L631.06 58.20 L631.03 57.70 L631.00 57.20 L630.97 56.70 L630.95 56.20 L630.92 55.70 L630.89 55.20 L630.87 54.70 L630.84 54.20 L630.82 53.70 L630.80 53.20 L630.78 52.70 L630.76 52.20 L630.74 51.70 L630.72 51.20 L630.70 50.70 L630.69 50.20 L630.67 49.70 L630.65 49.20 L630.64 48.70 L630.62 48.20 L630.61 47.70 L630.59 47.20 L630.58 46.70 L630.57 46.20 L630.56 45.70 L630.54 45.20 L630.53 44.70 L630.53 44.20 L630.52 43.70 L630.51 43.20 L630.50 42.70 L630.50 42.20 L630.49 41.70 L630.49 41.20 L630.48 40.70 L630.48 40.20 L630.48 39.70 L630.47 39.20 L630.47 38.70 L630.47 38.20 L630.46 37.70 L630.46 37.20 L630.46 36.70 L630.46 36.20 L630.45 35.70 L630.45 35.20 L630.45 34.70 L630.45 34.20 L630.45 33.70 L630.44 33.20 L630.44 32.70 L630.44 32.20 L630.44 31.70 L630.44 31.20Z" fill="#e5c849" stroke="#444444" stroke-width="1.25" stroke-linejoin="round"/>
<path d="M43.5 42.30H683.8 M43.5 108.23H683.8 M43.5 174.15H683.8 M43.5 240.07H683.8 M43.5 306.00H683.8 M96.86 332.5V15.4 M203.57 332.5V15.4 M310.29 332.5V15.4 M417.01 332.5V15.4 M523.72 332.5V15.4 M630.44 332.5V15.4" fill="none" stroke="#b0b0b0" stroke-opacity="0.6" stroke-width="0.77" stroke-dasharray="2.8 1.22"/>
<path d="M81.36 297.3H112.36" fill="none" stroke="#444444" stroke-width="1.35" stroke-opacity="0.88" stroke-dasharray="1.3 0.9"/>
<path d="M56.86 301.9H136.86" fill="none" stroke="#444444" stroke-width="1.35" stroke-opacity="0.88" stroke-dasharray="2.6 1.45"/>
<path d="M56.86 302.9H136.86" fill="none" stroke="#444444" stroke-width="1.35" stroke-opacity="0.88" stroke-dasharray="1.3 0.9"/>
<path d="M179.17 143.9H227.97" fill="none" stroke="#444444" stroke-width="1.35" stroke-opacity="0.88" stroke-dasharray="1.3 0.9"/>
<path d="M164.27 171H242.88" fill="none" stroke="#444444" stroke-width="1.35" stroke-opacity="0.88" stroke-dasharray="2.6 1.45"/>
<path d="M165.88 189.1H241.27" fill="none" stroke="#444444" stroke-width="1.35" stroke-opacity="0.88" stroke-dasharray="1.3 0.9"/>
<path d="M298.69 290.7H321.89" fill="none" stroke="#444444" stroke-width="1.35" stroke-opacity="0.88" stroke-dasharray="1.3 0.9"/>
<path d="M275.69 296.5H344.89" fill="none" stroke="#444444" stroke-width="1.35" stroke-opacity="0.88" stroke-dasharray="2.6 1.45"/>
<path d="M274.79 299.3H345.79" fill="none" stroke="#444444" stroke-width="1.35" stroke-opacity="0.88" stroke-dasharray="1.3 0.9"/>
<path d="M391.71 147.3H442.31" fill="none" stroke="#444444" stroke-width="1.35" stroke-opacity="0.88" stroke-dasharray="1.3 0.9"/>
<path d="M379.61 170.5H454.41" fill="none" stroke="#444444" stroke-width="1.35" stroke-opacity="0.88" stroke-dasharray="2.6 1.45"/>
<path d="M378.51 187.8H455.51" fill="none" stroke="#444444" stroke-width="1.35" stroke-opacity="0.88" stroke-dasharray="1.3 0.9"/>
<path d="M492.22 178.8H555.22" fill="none" stroke="#444444" stroke-width="1.35" stroke-opacity="0.88" stroke-dasharray="1.3 0.9"/>
<path d="M481.72 196.4H565.72" fill="none" stroke="#444444" stroke-width="1.35" stroke-opacity="0.88" stroke-dasharray="2.6 1.45"/>
<path d="M496.42 215.5H551.02" fill="none" stroke="#444444" stroke-width="1.35" stroke-opacity="0.88" stroke-dasharray="1.3 0.9"/>
<path d="M601.94 134.7H658.94" fill="none" stroke="#444444" stroke-width="1.35" stroke-opacity="0.88" stroke-dasharray="1.3 0.9"/>
<path d="M588.24 154H672.64" fill="none" stroke="#444444" stroke-width="1.35" stroke-opacity="0.88" stroke-dasharray="2.6 1.45"/>
<path d="M598.84 171.3H662.04" fill="none" stroke="#444444" stroke-width="1.35" stroke-opacity="0.88" stroke-dasharray="1.3 0.9"/>
<rect x="43.5" y="15.4" width="640.3" height="317.1" fill="none" stroke="#222" stroke-width="0.8"/>
<path d="M43.5 42.30h-3.35 M43.5 108.23h-3.35 M43.5 174.15h-3.35 M43.5 240.07h-3.35 M43.5 306.00h-3.35 M96.86 332.5v3.35 M203.57 332.5v3.35 M310.29 332.5v3.35 M417.01 332.5v3.35 M523.72 332.5v3.35 M630.44 332.5v3.35" fill="none" stroke="#222" stroke-width="0.8"/>
<text x="36.8" y="45.60" font-size="9.58" text-anchor="end">1.0</text>
<text x="36.8" y="111.53" font-size="9.58" text-anchor="end">0.5</text>
<text x="36.8" y="177.45" font-size="9.58" text-anchor="end">0.0</text>
<text x="36.8" y="243.38" font-size="9.58" text-anchor="end">−0.5</text>
<text x="36.8" y="309.30" font-size="9.58" text-anchor="end">−1.0</text>
<text transform="translate(96.85 349.0) rotate(-45)" font-size="9.58" text-anchor="middle" dy="3.5">SAR</text>
<text transform="translate(203.7 347.3) rotate(-45)" font-size="9.58" text-anchor="middle" dy="3.5">pH</text>
<text transform="translate(309.9 348.4) rotate(-45)" font-size="9.58" text-anchor="middle" dy="3.5">TDS</text>
<text transform="translate(417.3 349.8) rotate(-45)" font-size="9.58" text-anchor="middle" dy="3.5">(LSI)</text>
<text transform="translate(523.9 350.3) rotate(-45)" font-size="9.58" text-anchor="middle" dy="3.5">(RSI)</text>
<text transform="translate(630.8 350.3) rotate(-45)" font-size="9.58" text-anchor="middle" dy="3.5">(PSI)</text>
<text x="363.65" y="374.8" font-size="9.58" text-anchor="middle">Features</text>
<text transform="translate(7.9 174.15) rotate(-90)" font-size="9.58" text-anchor="middle">Normalized Value (-1 to 1)</text>
<text x="363.65" y="9.8" font-size="11.5" text-anchor="middle">Violin Plot for 8 Columns (Normalized in [-1, 1])</text>
</svg></body></html>
